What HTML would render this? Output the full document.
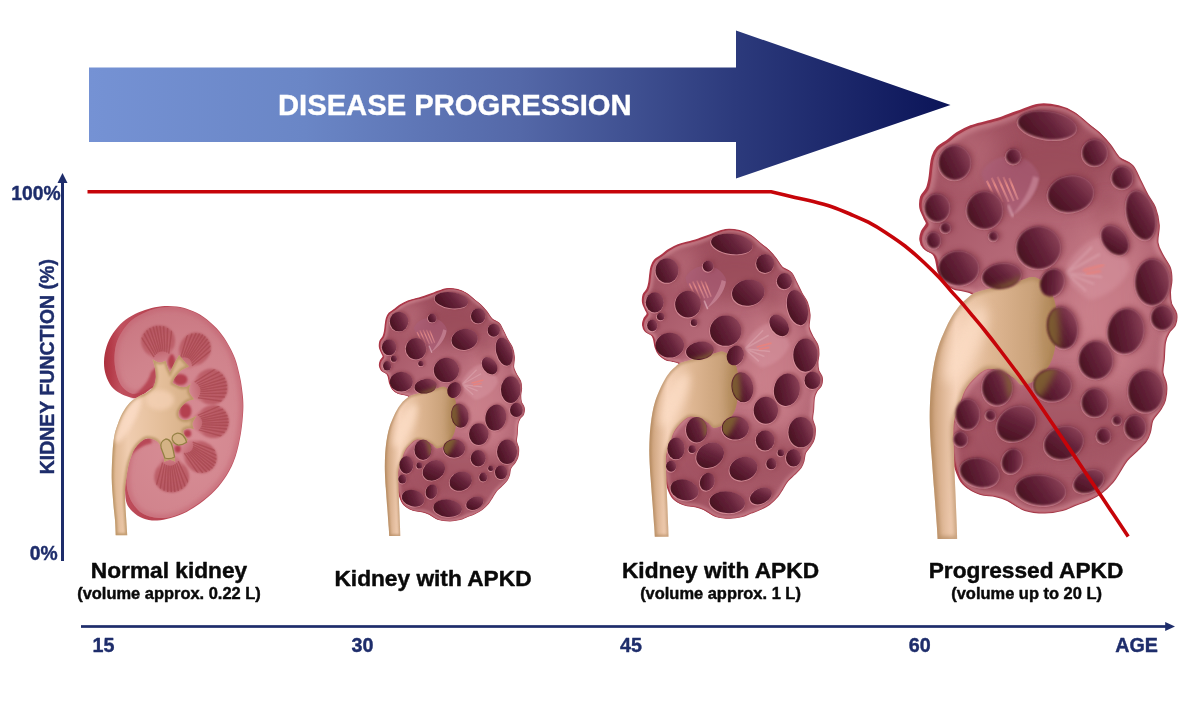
<!DOCTYPE html>
<html>
<head>
<meta charset="utf-8">
<title>Disease progression</title>
<style>
html,body{margin:0;padding:0;background:#fff;}
body{width:1200px;height:720px;overflow:hidden;font-family:"Liberation Sans",sans-serif;}
svg{display:block;}
text{font-family:"Liberation Sans",sans-serif;font-weight:bold;}
.nv{fill:#1e2d6b;stroke:#1e2d6b;stroke-width:0.4;stroke-linejoin:round;}
.bk{fill:#0a0a0a;stroke:#0a0a0a;stroke-width:0.45;stroke-linejoin:round;}
</style>
</head>
<body>
<svg width="1200" height="720" viewBox="0 0 1200 720">
<defs>
<linearGradient id="gArrow" x1="89" y1="0" x2="950" y2="0" gradientUnits="userSpaceOnUse">
<stop offset="0" stop-color="#7592d4"/>
<stop offset="0.25" stop-color="#6a86c6"/>
<stop offset="0.5" stop-color="#5468a8"/>
<stop offset="0.75" stop-color="#2c3a7c"/>
<stop offset="1" stop-color="#0b1458"/>
</linearGradient>
<filter id="soft" x="0" y="0" width="1200" height="720" filterUnits="userSpaceOnUse" color-interpolation-filters="sRGB"><feGaussianBlur stdDeviation="0.5"/></filter>

<filter id="b05" x="-10%" y="-10%" width="120%" height="120%"><feGaussianBlur stdDeviation="0.6"/></filter>
<filter id="b09" x="-10%" y="-10%" width="120%" height="120%"><feGaussianBlur stdDeviation="0.9"/></filter>
<linearGradient id="gStr1" x1="0" y1="176" x2="0" y2="208" gradientUnits="userSpaceOnUse"><stop offset="0" stop-color="#e58a86" stop-opacity="0.25"/><stop offset="0.3" stop-color="#e58a86" stop-opacity="0.95"/><stop offset="1" stop-color="#e9a0a4" stop-opacity="0.2"/></linearGradient>
<filter id="b1" x="-20%" y="-20%" width="140%" height="140%"><feGaussianBlur stdDeviation="1"/></filter>
<filter id="b2" x="-20%" y="-20%" width="140%" height="140%"><feGaussianBlur stdDeviation="2"/></filter>
<filter id="b3" x="-30%" y="-30%" width="160%" height="160%"><feGaussianBlur stdDeviation="3.5"/></filter>
<filter id="b6" x="-50%" y="-50%" width="200%" height="200%"><feGaussianBlur stdDeviation="6"/></filter>
<filter id="b12" x="-50%" y="-50%" width="200%" height="200%"><feGaussianBlur stdDeviation="12"/></filter>
<radialGradient id="gBody" cx="1080" cy="320" r="230" gradientUnits="userSpaceOnUse">
<stop offset="0" stop-color="#c47a86"/><stop offset="0.5" stop-color="#b26574"/><stop offset="1" stop-color="#9c4c5c"/>
</radialGradient>
<linearGradient id="gCyst" x1="0.95" y1="0.25" x2="0.08" y2="0.7">
<stop offset="0" stop-color="#8c4258"/><stop offset="0.45" stop-color="#65233a"/><stop offset="1" stop-color="#4a1222"/>
</linearGradient>
<linearGradient id="gPelvis" x1="930" y1="0" x2="1060" y2="0" gradientUnits="userSpaceOnUse">
<stop offset="0" stop-color="#c89c74"/><stop offset="0.2" stop-color="#f6d3ba"/><stop offset="0.48" stop-color="#deb692"/><stop offset="0.78" stop-color="#caa27a"/><stop offset="1" stop-color="#b48c60"/>
</linearGradient>
<clipPath id="cpBody"><path d="M1040.0 106.0 C1046.8 105.1 1054.2 106.2 1060.0 107.5 C1065.8 108.8 1070.0 110.7 1075.0 113.8 C1080.0 116.8 1085.8 122.6 1090.0 126.0 C1094.2 129.4 1096.7 130.8 1100.0 134.0 C1103.3 137.2 1106.7 140.9 1110.0 145.0 C1113.3 149.1 1116.2 155.2 1120.0 158.8 C1123.8 162.2 1129.2 162.5 1132.5 166.0 C1135.8 169.5 1137.5 175.2 1140.0 180.0 C1142.5 184.8 1145.0 190.4 1147.5 195.0 C1150.0 199.6 1153.1 202.5 1155.0 207.5 C1156.9 212.5 1158.3 219.2 1158.8 225.0 C1159.2 230.8 1156.9 237.5 1157.5 242.5 C1158.1 247.5 1160.4 250.8 1162.5 255.0 C1164.6 259.2 1168.5 263.8 1170.0 268.0 C1171.5 272.2 1171.5 275.9 1171.5 280.0 C1171.5 284.1 1170.0 288.5 1170.0 292.5 C1170.0 296.5 1170.2 300.2 1171.2 303.8 C1172.3 307.3 1175.6 310.2 1176.2 313.8 C1176.9 317.3 1176.2 321.9 1175.0 325.0 C1173.8 328.1 1170.4 329.6 1168.8 332.5 C1167.1 335.4 1165.8 337.9 1165.0 342.5 C1164.2 347.1 1164.2 355.0 1163.8 360.0 C1163.3 365.0 1162.1 368.3 1162.5 372.5 C1162.9 376.7 1165.8 380.4 1166.2 385.0 C1166.7 389.6 1166.0 395.8 1165.0 400.0 C1164.0 404.2 1162.1 406.7 1160.0 410.0 C1157.9 413.3 1154.2 416.3 1152.5 420.0 C1150.8 423.7 1151.1 428.5 1150.0 432.0 C1148.9 435.5 1148.2 437.9 1146.0 441.0 C1143.8 444.1 1140.2 447.3 1137.0 450.5 C1133.8 453.7 1129.8 456.6 1127.0 460.0 C1124.2 463.4 1122.3 467.4 1120.0 471.0 C1117.7 474.6 1116.2 477.8 1113.0 481.5 C1109.8 485.2 1105.3 489.8 1101.0 493.0 C1096.7 496.2 1091.3 498.5 1087.0 500.5 C1082.7 502.5 1079.1 503.4 1075.0 505.0 C1070.9 506.6 1067.5 508.8 1062.5 510.0 C1057.5 511.2 1051.2 512.5 1045.0 512.5 C1038.8 512.5 1031.2 512.1 1025.0 510.0 C1018.8 507.9 1012.5 502.3 1007.5 500.0 C1002.5 497.7 999.6 497.0 995.0 496.0 C990.4 495.0 985.0 495.6 980.0 493.8 C975.0 491.9 968.8 489.0 965.0 485.0 C961.2 481.0 959.4 475.8 957.5 470.0 C955.6 464.2 954.4 457.5 953.8 450.0 C953.1 442.5 952.9 432.1 953.8 425.0 C954.6 417.9 956.9 413.3 958.8 407.5 C960.6 401.7 962.3 395.0 965.0 390.0 C967.7 385.0 971.2 381.0 975.0 377.5 C978.8 374.0 982.5 369.7 987.5 368.8 C992.5 367.8 999.6 370.1 1005.0 372.0 C1010.4 373.9 1015.0 380.0 1020.0 380.0 C1025.0 380.0 1031.7 375.3 1035.0 372.0 C1038.3 368.7 1038.8 364.5 1040.0 360.0 C1041.2 355.5 1042.0 350.8 1042.0 345.0 C1042.0 339.2 1040.7 331.7 1040.0 325.0 C1039.3 318.3 1039.7 310.0 1038.0 305.0 C1036.3 300.0 1033.4 297.5 1030.0 295.0 C1026.6 292.5 1022.5 290.7 1017.5 290.0 C1012.5 289.3 1005.4 290.7 1000.0 291.0 C994.6 291.3 989.1 291.3 985.0 292.0 C980.9 292.7 977.8 294.9 975.5 295.0 C973.2 295.1 973.2 293.3 971.0 292.5 C968.8 291.7 965.2 291.0 962.2 290.3 C959.2 289.6 956.2 289.7 953.3 288.3 C950.4 286.9 947.2 284.7 945.0 282.0 C942.8 279.3 941.2 275.7 940.0 272.0 C938.8 268.3 938.5 263.0 937.5 260.0 C936.5 257.0 936.0 255.8 934.0 254.0 C932.0 252.2 927.5 251.2 925.5 249.0 C923.5 246.8 922.3 243.8 922.0 241.0 C921.7 238.2 922.5 235.2 923.6 232.5 C924.7 229.8 928.1 227.2 928.5 225.0 C928.9 222.8 927.1 221.7 926.0 219.0 C924.9 216.3 922.5 212.5 922.0 209.0 C921.5 205.5 921.8 201.2 922.8 198.0 C923.8 194.8 926.9 193.0 928.3 190.0 C929.7 187.0 930.3 183.7 931.0 180.0 C931.7 176.3 931.9 171.8 932.4 168.1 C932.9 164.3 933.2 160.7 934.3 157.5 C935.4 154.3 936.6 151.6 939.0 149.0 C941.4 146.4 945.6 144.4 948.9 142.0 C952.2 139.6 954.7 136.9 958.6 134.5 C962.5 132.1 967.4 129.4 972.3 127.5 C977.2 125.6 982.9 124.6 987.8 123.3 C992.6 122.0 996.2 121.2 1001.4 119.5 C1006.6 117.8 1012.6 115.2 1019.0 113.0 C1025.4 110.8 1033.2 106.9 1040.0 106.0 Z"/></clipPath>
<clipPath id="cpPelvis"><path d="M974.5 293.0 C971.2 294.6 969.4 296.5 967.0 298.5 C964.6 300.5 962.5 302.0 960.0 305.0 C957.5 308.0 954.2 312.5 951.7 316.7 C949.2 320.9 947.2 325.0 945.0 330.0 C942.8 335.0 940.1 341.1 938.3 346.7 C936.5 352.2 935.3 357.8 934.2 363.3 C933.1 368.9 932.4 374.4 931.7 380.0 C931.1 385.6 930.6 390.6 930.3 396.7 C930.0 402.8 929.7 409.5 929.7 416.7 C929.7 423.9 930.2 433.7 930.5 440.0 C930.8 446.3 930.9 446.5 931.5 454.7 C932.1 462.9 933.2 477.8 934.1 489.4 C935.0 501.0 936.1 516.0 936.7 524.2 C937.3 532.5 937.6 538.9 937.6 538.9 C937.6 538.9 957.2 538.9 957.2 538.9 C957.2 538.9 957.0 532.5 956.7 524.2 C956.4 516.0 955.8 501.0 955.3 489.4 C954.8 477.8 954.3 465.4 954.0 454.7 C953.7 444.0 952.8 432.9 953.6 425.0 C954.4 417.1 956.9 413.3 958.8 407.5 C960.6 401.7 962.3 395.0 965.0 390.0 C967.7 385.0 971.2 381.0 975.0 377.5 C978.8 374.0 982.8 369.9 987.5 369.0 C992.2 368.1 998.6 370.5 1003.0 372.0 C1007.4 373.5 1011.2 376.0 1014.0 378.0 C1016.8 380.0 1018.2 382.9 1020.0 384.0 C1021.8 385.1 1022.3 385.2 1025.0 384.5 C1027.7 383.8 1032.5 382.4 1036.0 380.0 C1039.5 377.6 1043.2 373.9 1046.0 370.0 C1048.8 366.1 1051.1 361.9 1052.8 356.7 C1054.5 351.5 1055.4 345.6 1056.0 338.9 C1056.6 332.2 1056.9 323.4 1056.6 316.7 C1056.2 310.0 1055.8 304.5 1053.9 298.9 C1052.0 293.3 1047.7 286.7 1045.0 283.3 C1042.3 279.9 1040.2 279.6 1038.0 278.5 C1035.8 277.4 1035.0 276.6 1031.7 277.0 C1028.4 277.4 1023.1 279.7 1018.3 281.0 C1013.5 282.3 1008.2 283.6 1003.0 285.0 C997.8 286.4 991.8 287.9 987.0 289.2 C982.2 290.5 977.8 291.4 974.5 293.0 Z"/></clipPath>
<mask id="mPelvisX" maskUnits="userSpaceOnUse" x="900" y="250" width="200" height="180"><path d="M968.0 300.0 C973.0 294.3 979.2 293.6 985.0 291.0 C990.8 288.4 995.5 287.2 1003.0 284.5 C1010.5 281.8 1022.8 275.6 1030.0 275.0 C1037.2 274.4 1041.7 276.8 1046.0 281.0 C1050.3 285.2 1053.7 291.8 1056.0 300.0 C1058.3 308.2 1059.5 320.8 1060.0 330.0 C1060.5 339.2 1059.8 348.0 1059.0 355.0 C1058.2 362.0 1057.0 366.5 1055.0 372.0 C1053.0 377.5 1049.8 383.7 1047.0 388.0 C1044.2 392.3 1043.8 396.0 1038.0 398.0 C1032.2 400.0 1017.2 402.2 1012.0 400.0 C1006.8 397.8 1008.5 389.7 1007.0 385.0 C1005.5 380.3 1006.7 375.2 1003.0 372.0 C999.3 368.8 989.7 365.5 985.0 366.0 C980.3 366.5 979.2 371.0 975.0 375.0 C970.8 379.0 964.2 392.5 960.0 390.0 C955.8 387.5 950.8 370.8 950.0 360.0 C949.2 349.2 952.0 335.0 955.0 325.0 C958.0 315.0 963.0 305.7 968.0 300.0 Z" fill="#fff" filter="url(#b3)"/></mask>

<linearGradient id="gNRim" x1="103" y1="0" x2="250" y2="0" gradientUnits="userSpaceOnUse">
<stop offset="0" stop-color="#aa2f3c"/><stop offset="0.05" stop-color="#b43a48"/><stop offset="0.12" stop-color="#c0505e"/><stop offset="0.3" stop-color="#b84452"/><stop offset="1" stop-color="#c25866"/>
</linearGradient>
<radialGradient id="gNFace" cx="190" cy="440" r="150" gradientUnits="userSpaceOnUse">
<stop offset="0" stop-color="#d88e96"/><stop offset="0.6" stop-color="#d0838c"/><stop offset="1" stop-color="#c7737e"/>
</radialGradient>
<linearGradient id="gNPel" x1="110" y1="0" x2="200" y2="0" gradientUnits="userSpaceOnUse">
<stop offset="0" stop-color="#d9b08a"/><stop offset="0.2" stop-color="#f0cdb0"/><stop offset="0.6" stop-color="#e3bd98"/><stop offset="1" stop-color="#d2ab82"/>
</linearGradient>
<clipPath id="cpNFace"><path d="M165.0 307.3 C168.8 307.1 173.8 306.9 178.0 307.5 C182.2 308.1 185.8 309.1 190.0 310.8 C194.2 312.5 198.7 314.5 203.0 317.5 C207.3 320.5 212.2 324.9 216.0 329.0 C219.8 333.1 223.0 337.1 226.0 342.0 C229.0 346.9 232.0 352.7 234.2 358.5 C236.4 364.3 237.9 371.2 239.2 377.0 C240.4 382.8 241.2 388.0 241.7 393.5 C242.2 399.0 242.7 403.4 242.4 410.0 C242.2 416.6 241.5 425.2 240.2 433.0 C238.9 440.8 237.0 449.6 234.7 456.5 C232.4 463.4 229.6 468.9 226.2 474.5 C222.8 480.1 218.8 485.1 214.3 489.8 C209.9 494.5 204.7 498.8 199.5 502.6 C194.3 506.4 188.5 510.1 183.0 512.6 C177.5 515.1 171.9 517.1 166.7 517.8 C161.5 518.5 156.3 517.9 152.0 517.0 C147.7 516.1 144.2 514.8 141.0 512.5 C137.8 510.2 134.7 506.5 132.5 503.0 C130.3 499.5 128.8 495.8 127.8 491.7 C126.8 487.6 126.5 482.8 126.5 478.3 C126.5 473.9 127.0 469.1 127.7 465.0 C128.4 460.9 129.2 456.8 130.5 453.5 C131.8 450.2 133.6 447.6 135.5 445.3 C137.4 443.0 139.6 440.8 142.0 439.6 C144.4 438.4 146.2 439.6 150.0 438.3 C153.8 437.0 162.0 438.4 165.0 432.0 C168.0 425.6 169.5 407.7 168.0 400.0 C166.5 392.3 159.3 387.9 156.0 386.0 C152.7 384.1 150.8 387.3 148.0 388.5 C145.2 389.7 141.8 392.2 139.0 393.0 C136.2 393.8 133.8 394.3 131.0 393.3 C128.2 392.3 124.8 389.9 122.5 387.0 C120.2 384.1 118.3 380.3 117.0 376.0 C115.7 371.7 114.7 366.2 114.5 361.0 C114.3 355.8 114.8 349.9 116.0 345.0 C117.2 340.1 119.3 335.9 122.0 331.7 C124.7 327.5 128.2 323.2 132.0 320.0 C135.8 316.8 141.2 314.4 145.0 312.5 C148.8 310.6 151.7 309.7 155.0 308.8 C158.3 307.9 161.2 307.5 165.0 307.3 Z"/></clipPath>
<clipPath id="cpNPel"><path d="M152.5 359.2 C152.5 359.2 157.0 362.2 159.2 362.5 C161.4 362.8 165.8 360.8 165.8 360.8 C165.8 360.8 166.8 364.8 167.5 366.7 C168.2 368.6 170.0 372.5 170.0 372.5 C170.0 372.5 172.5 366.9 174.0 364.0 C175.5 361.1 179.2 355.0 179.2 355.0 C179.2 355.0 182.3 359.1 184.0 361.0 C185.7 362.9 189.2 366.7 189.2 366.7 C189.2 366.7 184.1 368.2 181.7 370.0 C179.3 371.8 176.5 375.3 175.0 377.5 C173.5 379.7 172.5 383.0 172.5 383.0 C172.5 383.0 177.6 386.1 180.0 386.7 C182.4 387.3 184.9 387.3 186.7 386.7 C188.5 386.1 190.8 383.3 190.8 383.3 C190.8 383.3 188.6 389.1 189.2 391.7 C189.8 394.3 194.2 399.2 194.2 399.2 C194.2 399.2 188.9 400.3 186.7 401.7 C184.5 403.1 182.2 405.6 180.8 407.5 C179.4 409.4 178.4 411.5 178.3 413.3 C178.2 415.1 178.6 417.2 180.0 418.3 C181.4 419.4 183.9 420.4 186.7 420.0 C189.5 419.6 196.7 415.8 196.7 415.8 C196.7 415.8 192.9 421.1 192.5 423.3 C192.1 425.5 194.2 429.2 194.2 429.2 C194.2 429.2 190.1 428.0 188.3 428.3 C186.5 428.6 183.9 429.6 183.3 430.8 C182.8 432.1 184.2 434.3 185.0 435.8 C185.8 437.3 188.3 440.0 188.3 440.0 C188.3 440.0 183.6 442.5 181.7 443.3 C179.8 444.1 178.0 445.0 176.7 445.0 C175.4 445.0 174.4 443.3 173.7 443.3 C173.0 443.3 172.5 445.0 172.5 445.0 C172.5 445.0 173.2 450.5 173.7 453.3 C174.2 456.1 175.3 461.7 175.3 461.7 C175.3 461.7 171.8 460.0 170.0 460.0 C168.2 460.0 164.2 461.7 164.2 461.7 C164.2 461.7 163.9 455.8 163.3 453.3 C162.7 450.8 161.6 448.5 160.8 446.7 C160.0 444.9 159.6 443.8 158.3 442.5 C157.1 441.2 155.2 439.9 153.3 439.2 C151.4 438.5 148.9 437.8 146.7 438.3 C144.5 438.9 141.9 440.8 140.0 442.5 C138.1 444.2 136.4 446.2 135.0 448.3 C133.6 450.4 132.8 452.2 131.7 455.0 C130.6 457.8 129.4 461.1 128.5 465.0 C127.6 468.9 126.9 474.1 126.3 478.3 C125.7 482.5 125.2 485.8 125.0 490.0 C124.8 494.2 125.1 498.3 125.3 503.3 C125.5 508.3 126.0 514.7 126.3 520.0 C126.6 525.3 127.3 535.2 127.3 535.2 C127.3 535.2 115.7 535.2 115.7 535.2 C115.7 535.2 115.4 525.3 115.0 520.0 C114.6 514.7 113.8 510.2 113.3 503.3 C112.8 496.4 111.8 486.6 111.7 478.3 C111.6 470.0 112.1 460.2 112.5 453.3 C112.9 446.4 113.4 441.4 114.2 436.7 C115.0 432.0 116.1 428.9 117.5 425.0 C118.9 421.1 120.4 416.8 122.5 413.0 C124.6 409.2 127.4 405.2 130.0 402.5 C132.6 399.8 135.5 398.4 138.3 396.7 C141.1 395.0 144.2 394.2 146.7 392.5 C149.2 390.8 151.8 389.1 153.3 386.7 C154.8 384.3 155.5 381.4 155.8 378.3 C156.1 375.2 155.6 371.5 155.0 368.3 C154.4 365.1 152.5 359.2 152.5 359.2 Z"/></clipPath>
<linearGradient id="gPy0" gradientUnits="userSpaceOnUse" x1="162.5" y1="360.0" x2="154.6" y2="325.9"><stop offset="0" stop-color="#cc7882" stop-opacity="0.55"/><stop offset="0.3" stop-color="#bd5f69" stop-opacity="0.95"/><stop offset="1" stop-color="#b65761" stop-opacity="1"/></linearGradient>
<clipPath id="cpPy0"><path d="M157.2 361.2 C154.5 361.0 153.8 359.0 151.8 357.4 C149.8 355.9 147.0 354.2 145.3 352.1 C143.6 350.0 142.2 347.5 141.6 345.1 C141.0 342.6 140.9 340.0 141.6 337.5 C142.3 335.1 143.7 332.4 145.9 330.4 C148.1 328.5 151.5 326.6 154.6 325.9 C157.7 325.2 161.7 325.4 164.5 326.1 C167.3 326.9 169.7 328.8 171.4 330.6 C173.1 332.5 174.2 335.0 174.7 337.4 C175.2 339.9 175.1 342.8 174.5 345.4 C173.9 348.0 172.1 350.8 171.0 353.0 C169.9 355.2 170.1 357.4 167.8 358.8 C165.5 360.1 159.9 361.4 157.2 361.2 Z"/></clipPath>
<linearGradient id="gPy1" gradientUnits="userSpaceOnUse" x1="183.5" y1="366.0" x2="204.2" y2="335.3"><stop offset="0" stop-color="#cc7882" stop-opacity="0.55"/><stop offset="0.3" stop-color="#bd5f69" stop-opacity="0.95"/><stop offset="1" stop-color="#b65761" stop-opacity="1"/></linearGradient>
<clipPath id="cpPy1"><path d="M179.4 363.2 C177.9 361.2 179.0 359.2 178.9 356.7 C178.9 354.2 178.5 351.0 179.0 348.3 C179.5 345.5 180.6 342.7 182.0 340.5 C183.5 338.2 185.4 336.2 187.7 334.9 C189.9 333.6 192.8 332.5 195.5 332.6 C198.3 332.7 201.8 333.7 204.2 335.3 C206.6 336.9 208.8 339.8 209.9 342.3 C211.0 344.9 211.2 347.9 210.8 350.5 C210.4 353.1 209.3 355.6 207.7 357.8 C206.2 360.0 203.9 362.0 201.6 363.5 C199.3 365.0 196.2 365.9 193.8 366.7 C191.5 367.6 190.0 369.4 187.6 368.8 C185.2 368.2 180.8 365.2 179.4 363.2 Z"/></clipPath>
<linearGradient id="gPy2" gradientUnits="userSpaceOnUse" x1="191.5" y1="391.0" x2="227.2" y2="383.4"><stop offset="0" stop-color="#cc7882" stop-opacity="0.55"/><stop offset="0.3" stop-color="#bd5f69" stop-opacity="0.95"/><stop offset="1" stop-color="#b65761" stop-opacity="1"/></linearGradient>
<clipPath id="cpPy2"><path d="M190.3 385.4 C190.6 382.5 192.7 381.8 194.3 379.7 C195.9 377.7 197.8 374.8 200.0 373.0 C202.2 371.3 204.8 369.8 207.4 369.2 C209.9 368.6 212.7 368.6 215.3 369.4 C217.8 370.2 220.6 371.7 222.6 374.1 C224.6 376.4 226.5 380.1 227.2 383.4 C227.9 386.7 227.7 390.9 226.8 393.8 C225.9 396.7 224.0 399.3 222.0 401.1 C220.0 402.9 217.4 403.9 214.9 404.4 C212.3 404.9 209.3 404.7 206.6 404.0 C203.9 403.3 201.0 401.4 198.7 400.1 C196.4 398.9 194.1 399.1 192.7 396.6 C191.3 394.2 190.0 388.2 190.3 385.4 Z"/></clipPath>
<linearGradient id="gPy3" gradientUnits="userSpaceOnUse" x1="193.5" y1="423.0" x2="228.9" y2="420.5"><stop offset="0" stop-color="#cc7882" stop-opacity="0.55"/><stop offset="0.3" stop-color="#bd5f69" stop-opacity="0.95"/><stop offset="1" stop-color="#b65761" stop-opacity="1"/></linearGradient>
<clipPath id="cpPy3"><path d="M193.1 417.7 C193.8 415.2 196.0 414.8 197.8 413.1 C199.6 411.4 201.8 409.0 204.2 407.7 C206.5 406.4 209.3 405.4 211.8 405.2 C214.4 404.9 217.1 405.3 219.4 406.3 C221.7 407.4 224.2 409.1 225.8 411.5 C227.4 413.8 228.7 417.5 228.9 420.5 C229.1 423.6 228.3 427.3 227.1 429.9 C225.8 432.5 223.6 434.6 221.5 435.9 C219.3 437.3 216.7 438.0 214.1 438.1 C211.6 438.2 208.7 437.7 206.2 436.7 C203.7 435.7 201.2 433.6 199.1 432.2 C197.1 430.8 194.9 430.7 193.9 428.3 C192.9 425.9 192.5 420.3 193.1 417.7 Z"/></clipPath>
<linearGradient id="gPy4" gradientUnits="userSpaceOnUse" x1="184.5" y1="444.5" x2="213.7" y2="467.3"><stop offset="0" stop-color="#cc7882" stop-opacity="0.55"/><stop offset="0.3" stop-color="#bd5f69" stop-opacity="0.95"/><stop offset="1" stop-color="#b65761" stop-opacity="1"/></linearGradient>
<clipPath id="cpPy4"><path d="M187.6 440.6 C189.7 439.3 191.6 440.5 194.1 440.6 C196.6 440.7 199.9 440.6 202.5 441.3 C205.2 442.0 208.0 443.2 210.1 444.8 C212.2 446.4 214.1 448.5 215.2 450.8 C216.4 453.2 217.2 456.1 217.0 458.8 C216.7 461.6 215.4 465.0 213.7 467.3 C211.9 469.6 208.9 471.6 206.3 472.5 C203.7 473.4 200.6 473.4 198.1 472.8 C195.5 472.3 193.1 470.9 191.0 469.2 C188.9 467.6 187.0 465.2 185.7 462.8 C184.4 460.4 183.8 457.2 183.0 454.8 C182.3 452.4 180.7 450.8 181.4 448.4 C182.2 446.0 185.4 441.9 187.6 440.6 Z"/></clipPath>
<linearGradient id="gPy5" gradientUnits="userSpaceOnUse" x1="170.0" y1="457.0" x2="173.1" y2="492.4"><stop offset="0" stop-color="#cc7882" stop-opacity="0.55"/><stop offset="0.3" stop-color="#bd5f69" stop-opacity="0.95"/><stop offset="1" stop-color="#b65761" stop-opacity="1"/></linearGradient>
<clipPath id="cpPy5"><path d="M175.6 456.5 C178.3 457.1 178.7 459.3 180.5 461.1 C182.3 462.9 184.9 465.0 186.4 467.3 C187.8 469.6 188.9 472.4 189.1 474.9 C189.4 477.5 189.1 480.2 188.0 482.5 C187.0 484.9 185.1 487.4 182.6 489.0 C180.1 490.7 176.3 492.1 173.1 492.4 C169.8 492.6 165.9 491.9 163.1 490.7 C160.4 489.6 158.1 487.4 156.7 485.3 C155.2 483.1 154.4 480.5 154.3 478.0 C154.1 475.4 154.7 472.5 155.7 470.0 C156.7 467.5 158.9 464.9 160.3 462.8 C161.8 460.7 161.9 458.5 164.4 457.5 C167.0 456.4 172.9 455.9 175.6 456.5 Z"/></clipPath>

</defs>
<rect x="0" y="0" width="1200" height="720" fill="#ffffff"/>
<g filter="url(#soft)">

<!-- big arrow -->
<path d="M89 67.5 H736 V30.5 L950.5 105 L736 178.5 V142 H89 Z" fill="url(#gArrow)"/>
<text x="278" y="115" font-size="29.2" fill="#ffffff" stroke="#ffffff" stroke-width="0.35">DISEASE PROGRESSION</text>

<!-- axes -->
<rect x="61" y="180" width="3" height="381" fill="#1e2d6b"/>
<path d="M62.5 173 L67.5 183 H57.5 Z" fill="#1e2d6b"/>
<rect x="81" y="625.15" width="1085" height="2.7" fill="#1e2d6b"/>
<path d="M1175 626.5 L1165.2 621.9 V631.1 Z" fill="#1e2d6b"/>

<text class="nv" x="60.6" y="199.9" font-size="19.3" text-anchor="end">100%</text>
<text class="nv" x="57.6" y="559.9" font-size="19.3" text-anchor="end">0%</text>
<text class="nv" transform="translate(54 474.3) rotate(-90)" font-size="19.5">KIDNEY FUNCTION (%)</text>

<text class="nv" x="92.6" y="651.5" font-size="19.7">15</text>
<text class="nv" x="351.6" y="651.5" font-size="19.7">30</text>
<text class="nv" x="620" y="651.5" font-size="19.7">45</text>
<text class="nv" x="908.7" y="651.5" font-size="19.7">60</text>
<text class="nv" x="1115.3" y="651.5" font-size="19.7">AGE</text>

<g id="nk">
<path d="M161.7 306.2 C166.4 305.8 172.0 305.9 176.7 306.5 C181.4 307.1 185.6 308.3 190.0 310.0 C194.4 311.7 198.9 313.6 203.3 316.7 C207.8 319.8 212.8 324.1 216.7 328.3 C220.6 332.5 223.6 336.7 226.7 341.7 C229.8 346.7 232.8 352.5 235.0 358.3 C237.2 364.1 238.7 370.9 240.0 376.7 C241.3 382.5 242.0 387.8 242.6 393.3 C243.2 398.9 243.6 403.4 243.3 410.0 C243.0 416.6 242.3 425.2 241.0 433.0 C239.7 440.8 237.8 449.7 235.5 456.7 C233.2 463.7 230.4 469.4 227.0 475.0 C223.6 480.6 219.5 485.8 215.0 490.5 C210.5 495.2 205.3 499.7 200.0 503.5 C194.7 507.3 188.9 510.9 183.3 513.5 C177.8 516.1 171.9 517.8 166.7 519.0 C161.5 520.2 156.4 520.8 152.0 520.5 C147.6 520.2 143.6 518.8 140.0 517.0 C136.4 515.2 132.8 512.2 130.5 509.5 C128.2 506.8 126.9 504.9 126.0 501.0 C125.1 497.1 125.1 491.2 125.0 486.0 C124.9 480.8 124.8 474.8 125.5 470.0 C126.2 465.2 127.2 460.8 129.0 457.0 C130.8 453.2 133.3 449.8 136.0 447.0 C138.7 444.2 142.2 441.9 145.0 440.5 C147.8 439.1 149.7 440.2 153.0 438.5 C156.3 436.8 163.0 436.4 165.0 430.0 C167.0 423.6 166.9 406.9 165.0 400.0 C163.1 393.1 156.8 389.6 153.5 388.5 C150.2 387.4 147.9 391.7 145.0 393.3 C142.1 394.9 138.7 397.4 136.0 398.0 C133.3 398.6 131.7 397.8 129.0 397.0 C126.3 396.2 122.9 395.0 120.0 393.3 C117.1 391.6 114.1 389.8 111.7 386.7 C109.3 383.6 107.1 379.2 105.8 375.0 C104.5 370.8 103.9 366.4 104.0 361.7 C104.1 357.0 105.0 351.4 106.5 346.7 C108.0 342.0 110.2 337.5 113.0 333.3 C115.8 329.1 119.3 324.9 123.0 321.7 C126.7 318.5 130.8 316.1 135.0 314.0 C139.2 311.9 143.9 310.3 148.3 309.0 C152.8 307.7 157.0 306.6 161.7 306.2 Z" fill="url(#gNRim)"/>
<path d="M165.0 307.3 C168.8 307.1 173.8 306.9 178.0 307.5 C182.2 308.1 185.8 309.1 190.0 310.8 C194.2 312.5 198.7 314.5 203.0 317.5 C207.3 320.5 212.2 324.9 216.0 329.0 C219.8 333.1 223.0 337.1 226.0 342.0 C229.0 346.9 232.0 352.7 234.2 358.5 C236.4 364.3 237.9 371.2 239.2 377.0 C240.4 382.8 241.2 388.0 241.7 393.5 C242.2 399.0 242.7 403.4 242.4 410.0 C242.2 416.6 241.5 425.2 240.2 433.0 C238.9 440.8 237.0 449.6 234.7 456.5 C232.4 463.4 229.6 468.9 226.2 474.5 C222.8 480.1 218.8 485.1 214.3 489.8 C209.9 494.5 204.7 498.8 199.5 502.6 C194.3 506.4 188.5 510.1 183.0 512.6 C177.5 515.1 171.9 517.1 166.7 517.8 C161.5 518.5 156.3 517.9 152.0 517.0 C147.7 516.1 144.2 514.8 141.0 512.5 C137.8 510.2 134.7 506.5 132.5 503.0 C130.3 499.5 128.8 495.8 127.8 491.7 C126.8 487.6 126.5 482.8 126.5 478.3 C126.5 473.9 127.0 469.1 127.7 465.0 C128.4 460.9 129.2 456.8 130.5 453.5 C131.8 450.2 133.6 447.6 135.5 445.3 C137.4 443.0 139.6 440.8 142.0 439.6 C144.4 438.4 146.2 439.6 150.0 438.3 C153.8 437.0 162.0 438.4 165.0 432.0 C168.0 425.6 169.5 407.7 168.0 400.0 C166.5 392.3 159.3 387.9 156.0 386.0 C152.7 384.1 150.8 387.3 148.0 388.5 C145.2 389.7 141.8 392.2 139.0 393.0 C136.2 393.8 133.8 394.3 131.0 393.3 C128.2 392.3 124.8 389.9 122.5 387.0 C120.2 384.1 118.3 380.3 117.0 376.0 C115.7 371.7 114.7 366.2 114.5 361.0 C114.3 355.8 114.8 349.9 116.0 345.0 C117.2 340.1 119.3 335.9 122.0 331.7 C124.7 327.5 128.2 323.2 132.0 320.0 C135.8 316.8 141.2 314.4 145.0 312.5 C148.8 310.6 151.7 309.7 155.0 308.8 C158.3 307.9 161.2 307.5 165.0 307.3 Z" fill="url(#gNFace)"/>
<g clip-path="url(#cpNFace)">
<path d="M165.0 307.3 C168.8 307.1 173.8 306.9 178.0 307.5 C182.2 308.1 185.8 309.1 190.0 310.8 C194.2 312.5 198.7 314.5 203.0 317.5 C207.3 320.5 212.2 324.9 216.0 329.0 C219.8 333.1 223.0 337.1 226.0 342.0 C229.0 346.9 232.0 352.7 234.2 358.5 C236.4 364.3 237.9 371.2 239.2 377.0 C240.4 382.8 241.2 388.0 241.7 393.5 C242.2 399.0 242.7 403.4 242.4 410.0 C242.2 416.6 241.5 425.2 240.2 433.0 C238.9 440.8 237.0 449.6 234.7 456.5 C232.4 463.4 229.6 468.9 226.2 474.5 C222.8 480.1 218.8 485.1 214.3 489.8 C209.9 494.5 204.7 498.8 199.5 502.6 C194.3 506.4 188.5 510.1 183.0 512.6 C177.5 515.1 171.9 517.1 166.7 517.8 C161.5 518.5 156.3 517.9 152.0 517.0 C147.7 516.1 144.2 514.8 141.0 512.5 C137.8 510.2 134.7 506.5 132.5 503.0 C130.3 499.5 128.8 495.8 127.8 491.7 C126.8 487.6 126.5 482.8 126.5 478.3 C126.5 473.9 127.0 469.1 127.7 465.0 C128.4 460.9 129.2 456.8 130.5 453.5 C131.8 450.2 133.6 447.6 135.5 445.3 C137.4 443.0 139.6 440.8 142.0 439.6 C144.4 438.4 146.2 439.6 150.0 438.3 C153.8 437.0 162.0 438.4 165.0 432.0 C168.0 425.6 169.5 407.7 168.0 400.0 C166.5 392.3 159.3 387.9 156.0 386.0 C152.7 384.1 150.8 387.3 148.0 388.5 C145.2 389.7 141.8 392.2 139.0 393.0 C136.2 393.8 133.8 394.3 131.0 393.3 C128.2 392.3 124.8 389.9 122.5 387.0 C120.2 384.1 118.3 380.3 117.0 376.0 C115.7 371.7 114.7 366.2 114.5 361.0 C114.3 355.8 114.8 349.9 116.0 345.0 C117.2 340.1 119.3 335.9 122.0 331.7 C124.7 327.5 128.2 323.2 132.0 320.0 C135.8 316.8 141.2 314.4 145.0 312.5 C148.8 310.6 151.7 309.7 155.0 308.8 C158.3 307.9 161.2 307.5 165.0 307.3 Z" fill="none" stroke="#c4606e" stroke-opacity="0.5" stroke-width="7" filter="url(#b2)"/>
</g>
<g filter="url(#b09)" fill="#b43f4f">
<ellipse cx="171.5" cy="361.5" rx="3.6" ry="7.5"/>
<ellipse cx="180.5" cy="379.5" rx="7" ry="5.5"/>
<ellipse cx="185.5" cy="411" rx="6" ry="7.5"/>
<ellipse cx="187.5" cy="433.5" rx="3.8" ry="3.8"/>
<ellipse cx="177.8" cy="449" rx="3.3" ry="3.8"/>
</g>
<g filter="url(#b1)" fill="#b5404f" opacity="0.85">
<path d="M150 437 C141 438 133 446 130 457 C134 451 141 446 152 443 Z"/>
<path d="M157 366 C158 376 156 384 150 390 C144 394 137 397 131 399 C139 391 148 384 151 372 Z"/>
</g>
<path d="M157.2 361.2 C154.5 361.0 153.8 359.0 151.8 357.4 C149.8 355.9 147.0 354.2 145.3 352.1 C143.6 350.0 142.2 347.5 141.6 345.1 C141.0 342.6 140.9 340.0 141.6 337.5 C142.3 335.1 143.7 332.4 145.9 330.4 C148.1 328.5 151.5 326.6 154.6 325.9 C157.7 325.2 161.7 325.4 164.5 326.1 C167.3 326.9 169.7 328.8 171.4 330.6 C173.1 332.5 174.2 335.0 174.7 337.4 C175.2 339.9 175.1 342.8 174.5 345.4 C173.9 348.0 172.1 350.8 171.0 353.0 C169.9 355.2 170.1 357.4 167.8 358.8 C165.5 360.1 159.9 361.4 157.2 361.2 Z" fill="url(#gPy0)" filter="url(#b1)"/>
<g clip-path="url(#cpPy0)"><path d="M154.1 357.0 L141.2 337.2 M155.4 355.2 L143.9 333.3 M156.8 353.7 L146.7 330.3 M158.2 352.6 L149.7 327.9 M159.8 351.8 L153.0 326.4 M161.4 351.5 L156.3 325.6 M163.1 351.5 L159.9 325.6 M164.9 351.8 L163.6 326.3 M166.8 352.6 L167.6 327.9 M168.7 353.7 L171.7 330.2" stroke="#a5444c" stroke-width="1.5" stroke-opacity="0.62" fill="none" filter="url(#b05)"/></g>
<path d="M179.4 363.2 C177.9 361.2 179.0 359.2 178.9 356.7 C178.9 354.2 178.5 351.0 179.0 348.3 C179.5 345.5 180.6 342.7 182.0 340.5 C183.5 338.2 185.4 336.2 187.7 334.9 C189.9 333.6 192.8 332.5 195.5 332.6 C198.3 332.7 201.8 333.7 204.2 335.3 C206.6 336.9 208.8 339.8 209.9 342.3 C211.0 344.9 211.2 347.9 210.8 350.5 C210.4 353.1 209.3 355.6 207.7 357.8 C206.2 360.0 203.9 362.0 201.6 363.5 C199.3 365.0 196.2 365.9 193.8 366.7 C191.5 367.6 190.0 369.4 187.6 368.8 C185.2 368.2 180.8 365.2 179.4 363.2 Z" fill="url(#gPy1)" filter="url(#b1)"/>
<g clip-path="url(#cpPy1)"><path d="M180.6 358.0 L187.6 334.4 M182.8 357.5 L192.1 333.4 M184.7 357.4 L196.2 333.1 M186.4 357.6 L199.7 333.4 M187.9 358.1 L202.8 334.5 M189.2 358.9 L205.4 336.3 M190.2 360.1 L207.6 338.8 M191.0 361.6 L209.3 341.9 M191.6 363.5 L210.5 345.8 M192.0 365.6 L211.3 350.3" stroke="#a5444c" stroke-width="1.5" stroke-opacity="0.62" fill="none" filter="url(#b05)"/></g>
<path d="M190.3 385.4 C190.6 382.5 192.7 381.8 194.3 379.7 C195.9 377.7 197.8 374.8 200.0 373.0 C202.2 371.3 204.8 369.8 207.4 369.2 C209.9 368.6 212.7 368.6 215.3 369.4 C217.8 370.2 220.6 371.7 222.6 374.1 C224.6 376.4 226.5 380.1 227.2 383.4 C227.9 386.7 227.7 390.9 226.8 393.8 C225.9 396.7 224.0 399.3 222.0 401.1 C220.0 402.9 217.4 403.9 214.9 404.4 C212.3 404.9 209.3 404.7 206.6 404.0 C203.9 403.3 201.0 401.4 198.7 400.1 C196.4 398.9 194.1 399.1 192.7 396.6 C191.3 394.2 190.0 388.2 190.3 385.4 Z" fill="url(#gPy2)" filter="url(#b1)"/>
<g clip-path="url(#cpPy2)"><path d="M194.7 382.2 L215.6 368.9 M196.6 383.6 L219.6 371.9 M198.2 385.1 L222.8 374.9 M199.3 386.6 L225.1 378.2 M200.1 388.3 L226.7 381.6 M200.4 390.0 L227.5 385.2 M200.4 391.8 L227.4 389.0 M200.0 393.7 L226.6 392.9 M199.2 395.7 L224.9 397.1 M198.0 397.7 L222.5 401.3" stroke="#a5444c" stroke-width="1.5" stroke-opacity="0.62" fill="none" filter="url(#b05)"/></g>
<path d="M193.1 417.7 C193.8 415.2 196.0 414.8 197.8 413.1 C199.6 411.4 201.8 409.0 204.2 407.7 C206.5 406.4 209.3 405.4 211.8 405.2 C214.4 404.9 217.1 405.3 219.4 406.3 C221.7 407.4 224.2 409.1 225.8 411.5 C227.4 413.8 228.7 417.5 228.9 420.5 C229.1 423.6 228.3 427.3 227.1 429.9 C225.8 432.5 223.6 434.6 221.5 435.9 C219.3 437.3 216.7 438.0 214.1 438.1 C211.6 438.2 208.7 437.7 206.2 436.7 C203.7 435.7 201.2 433.6 199.1 432.2 C197.1 430.8 194.9 430.7 193.9 428.3 C192.9 425.9 192.5 420.3 193.1 417.7 Z" fill="url(#gPy3)" filter="url(#b1)"/>
<g clip-path="url(#cpPy3)"><path d="M197.8 415.4 L219.8 405.9 M199.5 416.9 L223.2 409.1 M200.7 418.4 L225.8 412.3 M201.6 420.0 L227.7 415.5 M202.1 421.6 L228.7 418.8 M202.2 423.2 L228.9 422.2 M201.9 424.8 L228.4 425.6 M201.3 426.5 L227.0 429.1 M200.3 428.2 L224.8 432.6 M198.8 429.9 L221.9 436.2" stroke="#a5444c" stroke-width="1.5" stroke-opacity="0.62" fill="none" filter="url(#b05)"/></g>
<path d="M187.6 440.6 C189.7 439.3 191.6 440.5 194.1 440.6 C196.6 440.7 199.9 440.6 202.5 441.3 C205.2 442.0 208.0 443.2 210.1 444.8 C212.2 446.4 214.1 448.5 215.2 450.8 C216.4 453.2 217.2 456.1 217.0 458.8 C216.7 461.6 215.4 465.0 213.7 467.3 C211.9 469.6 208.9 471.6 206.3 472.5 C203.7 473.4 200.6 473.4 198.1 472.8 C195.5 472.3 193.1 470.9 191.0 469.2 C188.9 467.6 187.0 465.2 185.7 462.8 C184.4 460.4 183.8 457.2 183.0 454.8 C182.3 452.4 180.7 450.8 181.4 448.4 C182.2 446.0 185.4 441.9 187.6 440.6 Z" fill="url(#gPy4)" filter="url(#b1)"/>
<g clip-path="url(#cpPy4)"><path d="M192.7 442.2 L215.8 450.8 M193.0 444.4 L216.5 455.4 M193.0 446.3 L216.5 459.4 M192.7 448.0 L215.8 463.0 M192.1 449.5 L214.5 466.0 M191.2 450.7 L212.6 468.5 M189.9 451.6 L210.0 470.4 M188.3 452.3 L206.7 471.9 M186.5 452.8 L202.8 472.9 M184.3 453.0 L198.2 473.3" stroke="#a5444c" stroke-width="1.5" stroke-opacity="0.62" fill="none" filter="url(#b05)"/></g>
<path d="M175.6 456.5 C178.3 457.1 178.7 459.3 180.5 461.1 C182.3 462.9 184.9 465.0 186.4 467.3 C187.8 469.6 188.9 472.4 189.1 474.9 C189.4 477.5 189.1 480.2 188.0 482.5 C187.0 484.9 185.1 487.4 182.6 489.0 C180.1 490.7 176.3 492.1 173.1 492.4 C169.8 492.6 165.9 491.9 163.1 490.7 C160.4 489.6 158.1 487.4 156.7 485.3 C155.2 483.1 154.4 480.5 154.3 478.0 C154.1 475.4 154.7 472.5 155.7 470.0 C156.7 467.5 158.9 464.9 160.3 462.8 C161.8 460.7 161.9 458.5 164.4 457.5 C167.0 456.4 172.9 455.9 175.6 456.5 Z" fill="url(#gPy5)" filter="url(#b1)"/>
<g clip-path="url(#cpPy5)"><path d="M178.1 461.1 L188.4 482.9 M176.5 462.8 L185.1 486.4 M174.9 464.1 L181.8 489.1 M173.3 465.0 L178.4 491.0 M171.6 465.6 L174.9 492.1 M169.9 465.7 L171.3 492.4 M168.2 465.5 L167.7 491.9 M166.4 464.9 L164.0 490.7 M164.6 463.9 L160.2 488.6 M162.7 462.5 L156.3 485.7" stroke="#a5444c" stroke-width="1.5" stroke-opacity="0.62" fill="none" filter="url(#b05)"/></g>
<path d="M152.5 359.2 C152.5 359.2 157.0 362.2 159.2 362.5 C161.4 362.8 165.8 360.8 165.8 360.8 C165.8 360.8 166.8 364.8 167.5 366.7 C168.2 368.6 170.0 372.5 170.0 372.5 C170.0 372.5 172.5 366.9 174.0 364.0 C175.5 361.1 179.2 355.0 179.2 355.0 C179.2 355.0 182.3 359.1 184.0 361.0 C185.7 362.9 189.2 366.7 189.2 366.7 C189.2 366.7 184.1 368.2 181.7 370.0 C179.3 371.8 176.5 375.3 175.0 377.5 C173.5 379.7 172.5 383.0 172.5 383.0 C172.5 383.0 177.6 386.1 180.0 386.7 C182.4 387.3 184.9 387.3 186.7 386.7 C188.5 386.1 190.8 383.3 190.8 383.3 C190.8 383.3 188.6 389.1 189.2 391.7 C189.8 394.3 194.2 399.2 194.2 399.2 C194.2 399.2 188.9 400.3 186.7 401.7 C184.5 403.1 182.2 405.6 180.8 407.5 C179.4 409.4 178.4 411.5 178.3 413.3 C178.2 415.1 178.6 417.2 180.0 418.3 C181.4 419.4 183.9 420.4 186.7 420.0 C189.5 419.6 196.7 415.8 196.7 415.8 C196.7 415.8 192.9 421.1 192.5 423.3 C192.1 425.5 194.2 429.2 194.2 429.2 C194.2 429.2 190.1 428.0 188.3 428.3 C186.5 428.6 183.9 429.6 183.3 430.8 C182.8 432.1 184.2 434.3 185.0 435.8 C185.8 437.3 188.3 440.0 188.3 440.0 C188.3 440.0 183.6 442.5 181.7 443.3 C179.8 444.1 178.0 445.0 176.7 445.0 C175.4 445.0 174.4 443.3 173.7 443.3 C173.0 443.3 172.5 445.0 172.5 445.0 C172.5 445.0 173.2 450.5 173.7 453.3 C174.2 456.1 175.3 461.7 175.3 461.7 C175.3 461.7 171.8 460.0 170.0 460.0 C168.2 460.0 164.2 461.7 164.2 461.7 C164.2 461.7 163.9 455.8 163.3 453.3 C162.7 450.8 161.6 448.5 160.8 446.7 C160.0 444.9 159.6 443.8 158.3 442.5 C157.1 441.2 155.2 439.9 153.3 439.2 C151.4 438.5 148.9 437.8 146.7 438.3 C144.5 438.9 141.9 440.8 140.0 442.5 C138.1 444.2 136.4 446.2 135.0 448.3 C133.6 450.4 132.8 452.2 131.7 455.0 C130.6 457.8 129.4 461.1 128.5 465.0 C127.6 468.9 126.9 474.1 126.3 478.3 C125.7 482.5 125.2 485.8 125.0 490.0 C124.8 494.2 125.1 498.3 125.3 503.3 C125.5 508.3 126.0 514.7 126.3 520.0 C126.6 525.3 127.3 535.2 127.3 535.2 C127.3 535.2 115.7 535.2 115.7 535.2 C115.7 535.2 115.4 525.3 115.0 520.0 C114.6 514.7 113.8 510.2 113.3 503.3 C112.8 496.4 111.8 486.6 111.7 478.3 C111.6 470.0 112.1 460.2 112.5 453.3 C112.9 446.4 113.4 441.4 114.2 436.7 C115.0 432.0 116.1 428.9 117.5 425.0 C118.9 421.1 120.4 416.8 122.5 413.0 C124.6 409.2 127.4 405.2 130.0 402.5 C132.6 399.8 135.5 398.4 138.3 396.7 C141.1 395.0 144.2 394.2 146.7 392.5 C149.2 390.8 151.8 389.1 153.3 386.7 C154.8 384.3 155.5 381.4 155.8 378.3 C156.1 375.2 155.6 371.5 155.0 368.3 C154.4 365.1 152.5 359.2 152.5 359.2 Z" fill="url(#gNPel)"/>
<g clip-path="url(#cpNPel)">
<path d="M152.5 359.2 C152.5 359.2 157.0 362.2 159.2 362.5 C161.4 362.8 165.8 360.8 165.8 360.8 C165.8 360.8 166.8 364.8 167.5 366.7 C168.2 368.6 170.0 372.5 170.0 372.5 C170.0 372.5 172.5 366.9 174.0 364.0 C175.5 361.1 179.2 355.0 179.2 355.0 C179.2 355.0 182.3 359.1 184.0 361.0 C185.7 362.9 189.2 366.7 189.2 366.7 C189.2 366.7 184.1 368.2 181.7 370.0 C179.3 371.8 176.5 375.3 175.0 377.5 C173.5 379.7 172.5 383.0 172.5 383.0 C172.5 383.0 177.6 386.1 180.0 386.7 C182.4 387.3 184.9 387.3 186.7 386.7 C188.5 386.1 190.8 383.3 190.8 383.3 C190.8 383.3 188.6 389.1 189.2 391.7 C189.8 394.3 194.2 399.2 194.2 399.2 C194.2 399.2 188.9 400.3 186.7 401.7 C184.5 403.1 182.2 405.6 180.8 407.5 C179.4 409.4 178.4 411.5 178.3 413.3 C178.2 415.1 178.6 417.2 180.0 418.3 C181.4 419.4 183.9 420.4 186.7 420.0 C189.5 419.6 196.7 415.8 196.7 415.8 C196.7 415.8 192.9 421.1 192.5 423.3 C192.1 425.5 194.2 429.2 194.2 429.2 C194.2 429.2 190.1 428.0 188.3 428.3 C186.5 428.6 183.9 429.6 183.3 430.8 C182.8 432.1 184.2 434.3 185.0 435.8 C185.8 437.3 188.3 440.0 188.3 440.0 C188.3 440.0 183.6 442.5 181.7 443.3 C179.8 444.1 178.0 445.0 176.7 445.0 C175.4 445.0 174.4 443.3 173.7 443.3 C173.0 443.3 172.5 445.0 172.5 445.0 C172.5 445.0 173.2 450.5 173.7 453.3 C174.2 456.1 175.3 461.7 175.3 461.7 C175.3 461.7 171.8 460.0 170.0 460.0 C168.2 460.0 164.2 461.7 164.2 461.7 C164.2 461.7 163.9 455.8 163.3 453.3 C162.7 450.8 161.6 448.5 160.8 446.7 C160.0 444.9 159.6 443.8 158.3 442.5 C157.1 441.2 155.2 439.9 153.3 439.2 C151.4 438.5 148.9 437.8 146.7 438.3 C144.5 438.9 141.9 440.8 140.0 442.5 C138.1 444.2 136.4 446.2 135.0 448.3 C133.6 450.4 132.8 452.2 131.7 455.0 C130.6 457.8 129.4 461.1 128.5 465.0 C127.6 468.9 126.9 474.1 126.3 478.3 C125.7 482.5 125.2 485.8 125.0 490.0 C124.8 494.2 125.1 498.3 125.3 503.3 C125.5 508.3 126.0 514.7 126.3 520.0 C126.6 525.3 127.3 535.2 127.3 535.2 C127.3 535.2 115.7 535.2 115.7 535.2 C115.7 535.2 115.4 525.3 115.0 520.0 C114.6 514.7 113.8 510.2 113.3 503.3 C112.8 496.4 111.8 486.6 111.7 478.3 C111.6 470.0 112.1 460.2 112.5 453.3 C112.9 446.4 113.4 441.4 114.2 436.7 C115.0 432.0 116.1 428.9 117.5 425.0 C118.9 421.1 120.4 416.8 122.5 413.0 C124.6 409.2 127.4 405.2 130.0 402.5 C132.6 399.8 135.5 398.4 138.3 396.7 C141.1 395.0 144.2 394.2 146.7 392.5 C149.2 390.8 151.8 389.1 153.3 386.7 C154.8 384.3 155.5 381.4 155.8 378.3 C156.1 375.2 155.6 371.5 155.0 368.3 C154.4 365.1 152.5 359.2 152.5 359.2 Z" fill="none" stroke="#b08a58" stroke-opacity="0.7" stroke-width="4" filter="url(#b1)"/>
<ellipse cx="128" cy="420" rx="6" ry="26" transform="rotate(28 128 420)" fill="#fbdcc6" opacity="0.85" filter="url(#b2)"/>
<ellipse cx="160" cy="400" rx="14" ry="10" fill="#f6d3b8" opacity="0.7" filter="url(#b2)"/>
</g>
<path d="M165.8 439 C162 440.5 160 444 161.2 448 C162.5 452 164 455 164.8 458 C168 459 172 458.5 174.6 457 C173.8 453 173 448 171.8 445 C170.8 441.5 168.5 439 165.8 439 Z" fill="#d4b285" stroke="#948044" stroke-width="1.3" filter="url(#b05)"/>
<path d="M176.7 433.3 C173.5 434 171.6 436.5 172.2 439.5 C173.5 442.5 176 444.5 178.5 445.2 C181.5 445 184.5 443.8 186.6 442.3 C185.8 439.5 184.5 437 182.8 435.3 C181 433.7 178.8 433 176.7 433.3 Z" fill="#d4b285" stroke="#948044" stroke-width="1.3" filter="url(#b05)"/>
</g>
<defs><g id="pk">
<path d="M1040.0 106.0 C1046.8 105.1 1054.2 106.2 1060.0 107.5 C1065.8 108.8 1070.0 110.7 1075.0 113.8 C1080.0 116.8 1085.8 122.6 1090.0 126.0 C1094.2 129.4 1096.7 130.8 1100.0 134.0 C1103.3 137.2 1106.7 140.9 1110.0 145.0 C1113.3 149.1 1116.2 155.2 1120.0 158.8 C1123.8 162.2 1129.2 162.5 1132.5 166.0 C1135.8 169.5 1137.5 175.2 1140.0 180.0 C1142.5 184.8 1145.0 190.4 1147.5 195.0 C1150.0 199.6 1153.1 202.5 1155.0 207.5 C1156.9 212.5 1158.3 219.2 1158.8 225.0 C1159.2 230.8 1156.9 237.5 1157.5 242.5 C1158.1 247.5 1160.4 250.8 1162.5 255.0 C1164.6 259.2 1168.5 263.8 1170.0 268.0 C1171.5 272.2 1171.5 275.9 1171.5 280.0 C1171.5 284.1 1170.0 288.5 1170.0 292.5 C1170.0 296.5 1170.2 300.2 1171.2 303.8 C1172.3 307.3 1175.6 310.2 1176.2 313.8 C1176.9 317.3 1176.2 321.9 1175.0 325.0 C1173.8 328.1 1170.4 329.6 1168.8 332.5 C1167.1 335.4 1165.8 337.9 1165.0 342.5 C1164.2 347.1 1164.2 355.0 1163.8 360.0 C1163.3 365.0 1162.1 368.3 1162.5 372.5 C1162.9 376.7 1165.8 380.4 1166.2 385.0 C1166.7 389.6 1166.0 395.8 1165.0 400.0 C1164.0 404.2 1162.1 406.7 1160.0 410.0 C1157.9 413.3 1154.2 416.3 1152.5 420.0 C1150.8 423.7 1151.1 428.5 1150.0 432.0 C1148.9 435.5 1148.2 437.9 1146.0 441.0 C1143.8 444.1 1140.2 447.3 1137.0 450.5 C1133.8 453.7 1129.8 456.6 1127.0 460.0 C1124.2 463.4 1122.3 467.4 1120.0 471.0 C1117.7 474.6 1116.2 477.8 1113.0 481.5 C1109.8 485.2 1105.3 489.8 1101.0 493.0 C1096.7 496.2 1091.3 498.5 1087.0 500.5 C1082.7 502.5 1079.1 503.4 1075.0 505.0 C1070.9 506.6 1067.5 508.8 1062.5 510.0 C1057.5 511.2 1051.2 512.5 1045.0 512.5 C1038.8 512.5 1031.2 512.1 1025.0 510.0 C1018.8 507.9 1012.5 502.3 1007.5 500.0 C1002.5 497.7 999.6 497.0 995.0 496.0 C990.4 495.0 985.0 495.6 980.0 493.8 C975.0 491.9 968.8 489.0 965.0 485.0 C961.2 481.0 959.4 475.8 957.5 470.0 C955.6 464.2 954.4 457.5 953.8 450.0 C953.1 442.5 952.9 432.1 953.8 425.0 C954.6 417.9 956.9 413.3 958.8 407.5 C960.6 401.7 962.3 395.0 965.0 390.0 C967.7 385.0 971.2 381.0 975.0 377.5 C978.8 374.0 982.5 369.7 987.5 368.8 C992.5 367.8 999.6 370.1 1005.0 372.0 C1010.4 373.9 1015.0 380.0 1020.0 380.0 C1025.0 380.0 1031.7 375.3 1035.0 372.0 C1038.3 368.7 1038.8 364.5 1040.0 360.0 C1041.2 355.5 1042.0 350.8 1042.0 345.0 C1042.0 339.2 1040.7 331.7 1040.0 325.0 C1039.3 318.3 1039.7 310.0 1038.0 305.0 C1036.3 300.0 1033.4 297.5 1030.0 295.0 C1026.6 292.5 1022.5 290.7 1017.5 290.0 C1012.5 289.3 1005.4 290.7 1000.0 291.0 C994.6 291.3 989.1 291.3 985.0 292.0 C980.9 292.7 977.8 294.9 975.5 295.0 C973.2 295.1 973.2 293.3 971.0 292.5 C968.8 291.7 965.2 291.0 962.2 290.3 C959.2 289.6 956.2 289.7 953.3 288.3 C950.4 286.9 947.2 284.7 945.0 282.0 C942.8 279.3 941.2 275.7 940.0 272.0 C938.8 268.3 938.5 263.0 937.5 260.0 C936.5 257.0 936.0 255.8 934.0 254.0 C932.0 252.2 927.5 251.2 925.5 249.0 C923.5 246.8 922.3 243.8 922.0 241.0 C921.7 238.2 922.5 235.2 923.6 232.5 C924.7 229.8 928.1 227.2 928.5 225.0 C928.9 222.8 927.1 221.7 926.0 219.0 C924.9 216.3 922.5 212.5 922.0 209.0 C921.5 205.5 921.8 201.2 922.8 198.0 C923.8 194.8 926.9 193.0 928.3 190.0 C929.7 187.0 930.3 183.7 931.0 180.0 C931.7 176.3 931.9 171.8 932.4 168.1 C932.9 164.3 933.2 160.7 934.3 157.5 C935.4 154.3 936.6 151.6 939.0 149.0 C941.4 146.4 945.6 144.4 948.9 142.0 C952.2 139.6 954.7 136.9 958.6 134.5 C962.5 132.1 967.4 129.4 972.3 127.5 C977.2 125.6 982.9 124.6 987.8 123.3 C992.6 122.0 996.2 121.2 1001.4 119.5 C1006.6 117.8 1012.6 115.2 1019.0 113.0 C1025.4 110.8 1033.2 106.9 1040.0 106.0 Z" fill="#ad3446" stroke="#ad3446" stroke-width="2.2" transform="translate(-1.6 -1.2)"/>
<path d="M1040.0 106.0 C1046.8 105.1 1054.2 106.2 1060.0 107.5 C1065.8 108.8 1070.0 110.7 1075.0 113.8 C1080.0 116.8 1085.8 122.6 1090.0 126.0 C1094.2 129.4 1096.7 130.8 1100.0 134.0 C1103.3 137.2 1106.7 140.9 1110.0 145.0 C1113.3 149.1 1116.2 155.2 1120.0 158.8 C1123.8 162.2 1129.2 162.5 1132.5 166.0 C1135.8 169.5 1137.5 175.2 1140.0 180.0 C1142.5 184.8 1145.0 190.4 1147.5 195.0 C1150.0 199.6 1153.1 202.5 1155.0 207.5 C1156.9 212.5 1158.3 219.2 1158.8 225.0 C1159.2 230.8 1156.9 237.5 1157.5 242.5 C1158.1 247.5 1160.4 250.8 1162.5 255.0 C1164.6 259.2 1168.5 263.8 1170.0 268.0 C1171.5 272.2 1171.5 275.9 1171.5 280.0 C1171.5 284.1 1170.0 288.5 1170.0 292.5 C1170.0 296.5 1170.2 300.2 1171.2 303.8 C1172.3 307.3 1175.6 310.2 1176.2 313.8 C1176.9 317.3 1176.2 321.9 1175.0 325.0 C1173.8 328.1 1170.4 329.6 1168.8 332.5 C1167.1 335.4 1165.8 337.9 1165.0 342.5 C1164.2 347.1 1164.2 355.0 1163.8 360.0 C1163.3 365.0 1162.1 368.3 1162.5 372.5 C1162.9 376.7 1165.8 380.4 1166.2 385.0 C1166.7 389.6 1166.0 395.8 1165.0 400.0 C1164.0 404.2 1162.1 406.7 1160.0 410.0 C1157.9 413.3 1154.2 416.3 1152.5 420.0 C1150.8 423.7 1151.1 428.5 1150.0 432.0 C1148.9 435.5 1148.2 437.9 1146.0 441.0 C1143.8 444.1 1140.2 447.3 1137.0 450.5 C1133.8 453.7 1129.8 456.6 1127.0 460.0 C1124.2 463.4 1122.3 467.4 1120.0 471.0 C1117.7 474.6 1116.2 477.8 1113.0 481.5 C1109.8 485.2 1105.3 489.8 1101.0 493.0 C1096.7 496.2 1091.3 498.5 1087.0 500.5 C1082.7 502.5 1079.1 503.4 1075.0 505.0 C1070.9 506.6 1067.5 508.8 1062.5 510.0 C1057.5 511.2 1051.2 512.5 1045.0 512.5 C1038.8 512.5 1031.2 512.1 1025.0 510.0 C1018.8 507.9 1012.5 502.3 1007.5 500.0 C1002.5 497.7 999.6 497.0 995.0 496.0 C990.4 495.0 985.0 495.6 980.0 493.8 C975.0 491.9 968.8 489.0 965.0 485.0 C961.2 481.0 959.4 475.8 957.5 470.0 C955.6 464.2 954.4 457.5 953.8 450.0 C953.1 442.5 952.9 432.1 953.8 425.0 C954.6 417.9 956.9 413.3 958.8 407.5 C960.6 401.7 962.3 395.0 965.0 390.0 C967.7 385.0 971.2 381.0 975.0 377.5 C978.8 374.0 982.5 369.7 987.5 368.8 C992.5 367.8 999.6 370.1 1005.0 372.0 C1010.4 373.9 1015.0 380.0 1020.0 380.0 C1025.0 380.0 1031.7 375.3 1035.0 372.0 C1038.3 368.7 1038.8 364.5 1040.0 360.0 C1041.2 355.5 1042.0 350.8 1042.0 345.0 C1042.0 339.2 1040.7 331.7 1040.0 325.0 C1039.3 318.3 1039.7 310.0 1038.0 305.0 C1036.3 300.0 1033.4 297.5 1030.0 295.0 C1026.6 292.5 1022.5 290.7 1017.5 290.0 C1012.5 289.3 1005.4 290.7 1000.0 291.0 C994.6 291.3 989.1 291.3 985.0 292.0 C980.9 292.7 977.8 294.9 975.5 295.0 C973.2 295.1 973.2 293.3 971.0 292.5 C968.8 291.7 965.2 291.0 962.2 290.3 C959.2 289.6 956.2 289.7 953.3 288.3 C950.4 286.9 947.2 284.7 945.0 282.0 C942.8 279.3 941.2 275.7 940.0 272.0 C938.8 268.3 938.5 263.0 937.5 260.0 C936.5 257.0 936.0 255.8 934.0 254.0 C932.0 252.2 927.5 251.2 925.5 249.0 C923.5 246.8 922.3 243.8 922.0 241.0 C921.7 238.2 922.5 235.2 923.6 232.5 C924.7 229.8 928.1 227.2 928.5 225.0 C928.9 222.8 927.1 221.7 926.0 219.0 C924.9 216.3 922.5 212.5 922.0 209.0 C921.5 205.5 921.8 201.2 922.8 198.0 C923.8 194.8 926.9 193.0 928.3 190.0 C929.7 187.0 930.3 183.7 931.0 180.0 C931.7 176.3 931.9 171.8 932.4 168.1 C932.9 164.3 933.2 160.7 934.3 157.5 C935.4 154.3 936.6 151.6 939.0 149.0 C941.4 146.4 945.6 144.4 948.9 142.0 C952.2 139.6 954.7 136.9 958.6 134.5 C962.5 132.1 967.4 129.4 972.3 127.5 C977.2 125.6 982.9 124.6 987.8 123.3 C992.6 122.0 996.2 121.2 1001.4 119.5 C1006.6 117.8 1012.6 115.2 1019.0 113.0 C1025.4 110.8 1033.2 106.9 1040.0 106.0 Z" fill="url(#gBody)" stroke="#a43a4a" stroke-width="2.0" stroke-linejoin="round"/>
<g clip-path="url(#cpBody)">
<path d="M1040.0 106.0 C1046.8 105.1 1054.2 106.2 1060.0 107.5 C1065.8 108.8 1070.0 110.7 1075.0 113.8 C1080.0 116.8 1085.8 122.6 1090.0 126.0 C1094.2 129.4 1096.7 130.8 1100.0 134.0 C1103.3 137.2 1106.7 140.9 1110.0 145.0 C1113.3 149.1 1116.2 155.2 1120.0 158.8 C1123.8 162.2 1129.2 162.5 1132.5 166.0 C1135.8 169.5 1137.5 175.2 1140.0 180.0 C1142.5 184.8 1145.0 190.4 1147.5 195.0 C1150.0 199.6 1153.1 202.5 1155.0 207.5 C1156.9 212.5 1158.3 219.2 1158.8 225.0 C1159.2 230.8 1156.9 237.5 1157.5 242.5 C1158.1 247.5 1160.4 250.8 1162.5 255.0 C1164.6 259.2 1168.5 263.8 1170.0 268.0 C1171.5 272.2 1171.5 275.9 1171.5 280.0 C1171.5 284.1 1170.0 288.5 1170.0 292.5 C1170.0 296.5 1170.2 300.2 1171.2 303.8 C1172.3 307.3 1175.6 310.2 1176.2 313.8 C1176.9 317.3 1176.2 321.9 1175.0 325.0 C1173.8 328.1 1170.4 329.6 1168.8 332.5 C1167.1 335.4 1165.8 337.9 1165.0 342.5 C1164.2 347.1 1164.2 355.0 1163.8 360.0 C1163.3 365.0 1162.1 368.3 1162.5 372.5 C1162.9 376.7 1165.8 380.4 1166.2 385.0 C1166.7 389.6 1166.0 395.8 1165.0 400.0 C1164.0 404.2 1162.1 406.7 1160.0 410.0 C1157.9 413.3 1154.2 416.3 1152.5 420.0 C1150.8 423.7 1151.1 428.5 1150.0 432.0 C1148.9 435.5 1148.2 437.9 1146.0 441.0 C1143.8 444.1 1140.2 447.3 1137.0 450.5 C1133.8 453.7 1129.8 456.6 1127.0 460.0 C1124.2 463.4 1122.3 467.4 1120.0 471.0 C1117.7 474.6 1116.2 477.8 1113.0 481.5 C1109.8 485.2 1105.3 489.8 1101.0 493.0 C1096.7 496.2 1091.3 498.5 1087.0 500.5 C1082.7 502.5 1079.1 503.4 1075.0 505.0 C1070.9 506.6 1067.5 508.8 1062.5 510.0 C1057.5 511.2 1051.2 512.5 1045.0 512.5 C1038.8 512.5 1031.2 512.1 1025.0 510.0 C1018.8 507.9 1012.5 502.3 1007.5 500.0 C1002.5 497.7 999.6 497.0 995.0 496.0 C990.4 495.0 985.0 495.6 980.0 493.8 C975.0 491.9 968.8 489.0 965.0 485.0 C961.2 481.0 959.4 475.8 957.5 470.0 C955.6 464.2 954.4 457.5 953.8 450.0 C953.1 442.5 952.9 432.1 953.8 425.0 C954.6 417.9 956.9 413.3 958.8 407.5 C960.6 401.7 962.3 395.0 965.0 390.0 C967.7 385.0 971.2 381.0 975.0 377.5 C978.8 374.0 982.5 369.7 987.5 368.8 C992.5 367.8 999.6 370.1 1005.0 372.0 C1010.4 373.9 1015.0 380.0 1020.0 380.0 C1025.0 380.0 1031.7 375.3 1035.0 372.0 C1038.3 368.7 1038.8 364.5 1040.0 360.0 C1041.2 355.5 1042.0 350.8 1042.0 345.0 C1042.0 339.2 1040.7 331.7 1040.0 325.0 C1039.3 318.3 1039.7 310.0 1038.0 305.0 C1036.3 300.0 1033.4 297.5 1030.0 295.0 C1026.6 292.5 1022.5 290.7 1017.5 290.0 C1012.5 289.3 1005.4 290.7 1000.0 291.0 C994.6 291.3 989.1 291.3 985.0 292.0 C980.9 292.7 977.8 294.9 975.5 295.0 C973.2 295.1 973.2 293.3 971.0 292.5 C968.8 291.7 965.2 291.0 962.2 290.3 C959.2 289.6 956.2 289.7 953.3 288.3 C950.4 286.9 947.2 284.7 945.0 282.0 C942.8 279.3 941.2 275.7 940.0 272.0 C938.8 268.3 938.5 263.0 937.5 260.0 C936.5 257.0 936.0 255.8 934.0 254.0 C932.0 252.2 927.5 251.2 925.5 249.0 C923.5 246.8 922.3 243.8 922.0 241.0 C921.7 238.2 922.5 235.2 923.6 232.5 C924.7 229.8 928.1 227.2 928.5 225.0 C928.9 222.8 927.1 221.7 926.0 219.0 C924.9 216.3 922.5 212.5 922.0 209.0 C921.5 205.5 921.8 201.2 922.8 198.0 C923.8 194.8 926.9 193.0 928.3 190.0 C929.7 187.0 930.3 183.7 931.0 180.0 C931.7 176.3 931.9 171.8 932.4 168.1 C932.9 164.3 933.2 160.7 934.3 157.5 C935.4 154.3 936.6 151.6 939.0 149.0 C941.4 146.4 945.6 144.4 948.9 142.0 C952.2 139.6 954.7 136.9 958.6 134.5 C962.5 132.1 967.4 129.4 972.3 127.5 C977.2 125.6 982.9 124.6 987.8 123.3 C992.6 122.0 996.2 121.2 1001.4 119.5 C1006.6 117.8 1012.6 115.2 1019.0 113.0 C1025.4 110.8 1033.2 106.9 1040.0 106.0 Z" fill="none" stroke="#dc98a0" stroke-opacity="0.5" stroke-width="9" filter="url(#b2)"/>
<ellipse cx="1052" cy="168" rx="60" ry="36" fill="#8e3f4e" opacity="0.5" filter="url(#b12)"/>
<ellipse cx="990" cy="450" rx="45" ry="45" fill="#95424f" opacity="0.25" filter="url(#b12)"/>
<ellipse cx="1070" cy="425" rx="75" ry="42" fill="#8e3f4e" opacity="0.38" filter="url(#b12)"/>
<ellipse cx="965" cy="150" rx="35" ry="30" fill="#d58c96" opacity="0.3" filter="url(#b12)"/>
<ellipse cx="1106" cy="215" rx="14" ry="22" fill="#8e3f4e" opacity="0.35" filter="url(#b6)"/>
<ellipse cx="1110" cy="300" rx="38" ry="95" fill="#d88e96" opacity="0.36" filter="url(#b12)"/>
<path d="M1011.5 216 C1000 206 985 190 981 173 C987 160 1002 155 1014 156 C1026 157 1036 165 1039.5 176 C1038 192 1026 207 1011.5 216 Z" fill="#a9607a" opacity="0.55" filter="url(#b1)"/>
<path d="M1039 178 C1037 193 1026 207 1012 216 C1022 203 1030 190 1033 176 Z" fill="#d79aa8" opacity="0.5" filter="url(#b1)"/>
<path d="M986.8 180.7 L996.9 202.3 M991.7 177.8 L1002.7 202.1 M997.5 176.6 L1008.6 201.8 M1003.4 176.8 L1013.7 201.1 M1009.2 178.0 L1017.9 199.6" stroke="url(#gStr1)" stroke-width="2.1" fill="none" filter="url(#b05)"/>
<path d="M1008 205 L1013 217" stroke="#f0c8d0" stroke-width="2.2" stroke-opacity="0.55" filter="url(#b1)"/>
<path d="M1064 273 C1070 255 1085 240 1103 236 C1118 246 1128 258 1130 268 C1124 284 1108 296 1090 300 C1078 292 1068 283 1064 273 Z" fill="#dea0ac" opacity="0.36" filter="url(#b2)"/>
<path d="M1066 273 L1092 247 M1066 273 L1100 254 M1066 273 L1094 284 M1066 273 L1086 291 M1066 273 L1102 277" stroke="#f3d0d6" stroke-width="2.2" stroke-opacity="0.24" fill="none" filter="url(#b1)"/>
<path d="M1083 270.5 L1104 265 M1086 273.8 L1101 271" stroke="#ea827c" stroke-width="2.4" stroke-opacity="0.9" fill="none" filter="url(#b09)"/>
</g>
<g clip-path="url(#cpBody)">
<g filter="url(#b2)" opacity="0.5">
<ellipse cx="1049.3" cy="124.4" rx="31.7" ry="15.95" transform="rotate(8 1049.3 124.4)" fill="#8c3c4c"/>
<ellipse cx="956.8" cy="161.9" rx="18.2" ry="19.2" fill="#8c3c4c"/>
<ellipse cx="1015.55" cy="155.65" rx="9.7" ry="9.7" fill="#8c3c4c"/>
<ellipse cx="1096.8" cy="151.9" rx="14.7" ry="15.2" fill="#8c3c4c"/>
<ellipse cx="1124.3" cy="176.9" rx="12.7" ry="13.2" fill="#8c3c4c"/>
<ellipse cx="1072.8" cy="193.15" rx="25.2" ry="20.2" transform="rotate(-10 1072.8 193.15)" fill="#8c3c4c"/>
<ellipse cx="986.8" cy="209.4" rx="20.2" ry="20.7" fill="#8c3c4c"/>
<ellipse cx="939.3" cy="206.9" rx="14.7" ry="15.95" fill="#8c3c4c"/>
<ellipse cx="947.8" cy="226.9" rx="7.2" ry="7.2" fill="#8c3c4c"/>
<ellipse cx="935.8" cy="239.4" rx="9.2" ry="10.2" fill="#8c3c4c"/>
<ellipse cx="995.55" cy="235.4" rx="6.7" ry="6.7" fill="#8c3c4c"/>
<ellipse cx="1142.8" cy="214.4" rx="15.95" ry="27.2" transform="rotate(-15 1142.8 214.4)" fill="#8c3c4c"/>
<ellipse cx="1040.55" cy="246.9" rx="24.2" ry="23.2" fill="#8c3c4c"/>
<ellipse cx="1116.8" cy="239.4" rx="13.7" ry="18.7" transform="rotate(-38 1116.8 239.4)" fill="#8c3c4c"/>
<ellipse cx="960.8" cy="267.4" rx="22.2" ry="19.2" fill="#8c3c4c"/>
<ellipse cx="1154.3" cy="281.4" rx="19.2" ry="25.2" fill="#8c3c4c"/>
<ellipse cx="1003.8" cy="275.2" rx="21.8" ry="14.7" transform="rotate(-8 1003.8 275.2)" fill="#8c3c4c"/>
<ellipse cx="1054.3" cy="281.9" rx="13.7" ry="16.2" transform="rotate(25 1054.3 281.9)" fill="#8c3c4c"/>
<ellipse cx="1164.3" cy="316.9" rx="13.2" ry="14.2" fill="#8c3c4c"/>
<ellipse cx="1064.3" cy="326.9" rx="17.2" ry="23.2" transform="rotate(-10 1064.3 326.9)" fill="#8c3c4c"/>
<ellipse cx="1127.8" cy="330.4" rx="20.2" ry="24.7" transform="rotate(10 1127.8 330.4)" fill="#8c3c4c"/>
<ellipse cx="1097.8" cy="359.4" rx="19.2" ry="20.95" fill="#8c3c4c"/>
<ellipse cx="1147.8" cy="390.4" rx="19.7" ry="23.2" fill="#8c3c4c"/>
<ellipse cx="1054.3" cy="384.4" rx="21.2" ry="18.2" fill="#8c3c4c"/>
<ellipse cx="999.3" cy="386.9" rx="17.2" ry="19.7" fill="#8c3c4c"/>
<ellipse cx="1096.8" cy="401.9" rx="15.2" ry="16.2" fill="#8c3c4c"/>
<ellipse cx="969.8" cy="413.4" rx="14.2" ry="17.2" fill="#8c3c4c"/>
<ellipse cx="992.8" cy="414.4" rx="7.2" ry="7.2" fill="#8c3c4c"/>
<ellipse cx="1018.3" cy="422.9" rx="22.7" ry="18.7" transform="rotate(-33 1018.3 422.9)" fill="#8c3c4c"/>
<ellipse cx="1119.3" cy="419.4" rx="6.7" ry="6.7" fill="#8c3c4c"/>
<ellipse cx="1137.3" cy="426.4" rx="12.7" ry="14.2" fill="#8c3c4c"/>
<ellipse cx="1105.8" cy="434.9" rx="9.2" ry="9.7" fill="#8c3c4c"/>
<ellipse cx="1065.8" cy="441.9" rx="22.2" ry="18.2" transform="rotate(-20 1065.8 441.9)" fill="#8c3c4c"/>
<ellipse cx="962.8" cy="438.4" rx="9.2" ry="9.7" fill="#8c3c4c"/>
<ellipse cx="1014.3" cy="460.4" rx="12.2" ry="14.7" transform="rotate(20 1014.3 460.4)" fill="#8c3c4c"/>
<ellipse cx="981.8" cy="471.9" rx="22.2" ry="16.2" transform="rotate(15 981.8 471.9)" fill="#8c3c4c"/>
<ellipse cx="1042.8" cy="489.4" rx="27.2" ry="17.2" transform="rotate(5 1042.8 489.4)" fill="#8c3c4c"/>
<ellipse cx="1090.8" cy="480.4" rx="18.2" ry="12.7" transform="rotate(-25 1090.8 480.4)" fill="#8c3c4c"/>
</g>
<g filter="url(#b05)" opacity="0.8">
<ellipse cx="1046.8" cy="125.9" rx="30.4" ry="14.65" transform="rotate(8 1046.8 125.9)" fill="#dc98a2"/>
<ellipse cx="954.3" cy="163.4" rx="16.9" ry="17.9" fill="#dc98a2"/>
<ellipse cx="1013.05" cy="157.15" rx="8.4" ry="8.4" fill="#dc98a2"/>
<ellipse cx="1094.3" cy="153.4" rx="13.4" ry="13.9" fill="#dc98a2"/>
<ellipse cx="1121.8" cy="178.4" rx="11.4" ry="11.9" fill="#dc98a2"/>
<ellipse cx="1070.3" cy="194.65" rx="23.9" ry="18.9" transform="rotate(-10 1070.3 194.65)" fill="#dc98a2"/>
<ellipse cx="984.3" cy="210.9" rx="18.9" ry="19.4" fill="#dc98a2"/>
<ellipse cx="936.8" cy="208.4" rx="13.4" ry="14.65" fill="#dc98a2"/>
<ellipse cx="945.3" cy="228.4" rx="5.9" ry="5.9" fill="#dc98a2"/>
<ellipse cx="933.3" cy="240.9" rx="7.9" ry="8.9" fill="#dc98a2"/>
<ellipse cx="993.05" cy="236.9" rx="5.4" ry="5.4" fill="#dc98a2"/>
<ellipse cx="1140.3" cy="215.9" rx="14.65" ry="25.9" transform="rotate(-15 1140.3 215.9)" fill="#dc98a2"/>
<ellipse cx="1038.05" cy="248.4" rx="22.9" ry="21.9" fill="#dc98a2"/>
<ellipse cx="1114.3" cy="240.9" rx="12.4" ry="17.4" transform="rotate(-38 1114.3 240.9)" fill="#dc98a2"/>
<ellipse cx="958.3" cy="268.9" rx="20.9" ry="17.9" fill="#dc98a2"/>
<ellipse cx="1151.8" cy="282.9" rx="17.9" ry="23.9" fill="#dc98a2"/>
<ellipse cx="1001.3" cy="276.7" rx="20.5" ry="13.4" transform="rotate(-8 1001.3 276.7)" fill="#dc98a2"/>
<ellipse cx="1051.8" cy="283.4" rx="12.4" ry="14.9" transform="rotate(25 1051.8 283.4)" fill="#dc98a2"/>
<ellipse cx="1161.8" cy="318.4" rx="11.9" ry="12.9" fill="#dc98a2"/>
<ellipse cx="1061.8" cy="328.4" rx="15.9" ry="21.9" transform="rotate(-10 1061.8 328.4)" fill="#dc98a2"/>
<ellipse cx="1125.3" cy="331.9" rx="18.9" ry="23.4" transform="rotate(10 1125.3 331.9)" fill="#dc98a2"/>
<ellipse cx="1095.3" cy="360.9" rx="17.9" ry="19.65" fill="#dc98a2"/>
<ellipse cx="1145.3" cy="391.9" rx="18.4" ry="21.9" fill="#dc98a2"/>
<ellipse cx="1051.8" cy="385.9" rx="19.9" ry="16.9" fill="#dc98a2"/>
<ellipse cx="996.8" cy="388.4" rx="15.9" ry="18.4" fill="#dc98a2"/>
<ellipse cx="1094.3" cy="403.4" rx="13.9" ry="14.9" fill="#dc98a2"/>
<ellipse cx="967.3" cy="414.9" rx="12.9" ry="15.9" fill="#dc98a2"/>
<ellipse cx="990.3" cy="415.9" rx="5.9" ry="5.9" fill="#dc98a2"/>
<ellipse cx="1015.8" cy="424.4" rx="21.4" ry="17.4" transform="rotate(-33 1015.8 424.4)" fill="#dc98a2"/>
<ellipse cx="1116.8" cy="420.9" rx="5.4" ry="5.4" fill="#dc98a2"/>
<ellipse cx="1134.8" cy="427.9" rx="11.4" ry="12.9" fill="#dc98a2"/>
<ellipse cx="1103.3" cy="436.4" rx="7.9" ry="8.4" fill="#dc98a2"/>
<ellipse cx="1063.3" cy="443.4" rx="20.9" ry="16.9" transform="rotate(-20 1063.3 443.4)" fill="#dc98a2"/>
<ellipse cx="960.3" cy="439.9" rx="7.9" ry="8.4" fill="#dc98a2"/>
<ellipse cx="1011.8" cy="461.9" rx="10.9" ry="13.4" transform="rotate(20 1011.8 461.9)" fill="#dc98a2"/>
<ellipse cx="979.3" cy="473.4" rx="20.9" ry="14.9" transform="rotate(15 979.3 473.4)" fill="#dc98a2"/>
<ellipse cx="1040.3" cy="490.9" rx="25.9" ry="15.9" transform="rotate(5 1040.3 490.9)" fill="#dc98a2"/>
<ellipse cx="1088.3" cy="481.9" rx="16.9" ry="11.4" transform="rotate(-25 1088.3 481.9)" fill="#dc98a2"/>
</g>
</g>
<g filter="url(#b05)">
<path d="M974.5 293.0 C971.2 294.6 969.4 296.5 967.0 298.5 C964.6 300.5 962.5 302.0 960.0 305.0 C957.5 308.0 954.2 312.5 951.7 316.7 C949.2 320.9 947.2 325.0 945.0 330.0 C942.8 335.0 940.1 341.1 938.3 346.7 C936.5 352.2 935.3 357.8 934.2 363.3 C933.1 368.9 932.4 374.4 931.7 380.0 C931.1 385.6 930.6 390.6 930.3 396.7 C930.0 402.8 929.7 409.5 929.7 416.7 C929.7 423.9 930.2 433.7 930.5 440.0 C930.8 446.3 930.9 446.5 931.5 454.7 C932.1 462.9 933.2 477.8 934.1 489.4 C935.0 501.0 936.1 516.0 936.7 524.2 C937.3 532.5 937.6 538.9 937.6 538.9 C937.6 538.9 957.2 538.9 957.2 538.9 C957.2 538.9 957.0 532.5 956.7 524.2 C956.4 516.0 955.8 501.0 955.3 489.4 C954.8 477.8 954.3 465.4 954.0 454.7 C953.7 444.0 952.8 432.9 953.6 425.0 C954.4 417.1 956.9 413.3 958.8 407.5 C960.6 401.7 962.3 395.0 965.0 390.0 C967.7 385.0 971.2 381.0 975.0 377.5 C978.8 374.0 982.8 369.9 987.5 369.0 C992.2 368.1 998.6 370.5 1003.0 372.0 C1007.4 373.5 1011.2 376.0 1014.0 378.0 C1016.8 380.0 1018.2 382.9 1020.0 384.0 C1021.8 385.1 1022.3 385.2 1025.0 384.5 C1027.7 383.8 1032.5 382.4 1036.0 380.0 C1039.5 377.6 1043.2 373.9 1046.0 370.0 C1048.8 366.1 1051.1 361.9 1052.8 356.7 C1054.5 351.5 1055.4 345.6 1056.0 338.9 C1056.6 332.2 1056.9 323.4 1056.6 316.7 C1056.2 310.0 1055.8 304.5 1053.9 298.9 C1052.0 293.3 1047.7 286.7 1045.0 283.3 C1042.3 279.9 1040.2 279.6 1038.0 278.5 C1035.8 277.4 1035.0 276.6 1031.7 277.0 C1028.4 277.4 1023.1 279.7 1018.3 281.0 C1013.5 282.3 1008.2 283.6 1003.0 285.0 C997.8 286.4 991.8 287.9 987.0 289.2 C982.2 290.5 977.8 291.4 974.5 293.0 Z" fill="url(#gPelvis)"/>
<g clip-path="url(#cpPelvis)">
<path d="M974.5 293.0 C971.2 294.6 969.4 296.5 967.0 298.5 C964.6 300.5 962.5 302.0 960.0 305.0 C957.5 308.0 954.2 312.5 951.7 316.7 C949.2 320.9 947.2 325.0 945.0 330.0 C942.8 335.0 940.1 341.1 938.3 346.7 C936.5 352.2 935.3 357.8 934.2 363.3 C933.1 368.9 932.4 374.4 931.7 380.0 C931.1 385.6 930.6 390.6 930.3 396.7 C930.0 402.8 929.7 409.5 929.7 416.7 C929.7 423.9 930.2 433.7 930.5 440.0 C930.8 446.3 930.9 446.5 931.5 454.7 C932.1 462.9 933.2 477.8 934.1 489.4 C935.0 501.0 936.1 516.0 936.7 524.2 C937.3 532.5 937.6 538.9 937.6 538.9 C937.6 538.9 957.2 538.9 957.2 538.9 C957.2 538.9 957.0 532.5 956.7 524.2 C956.4 516.0 955.8 501.0 955.3 489.4 C954.8 477.8 954.3 465.4 954.0 454.7 C953.7 444.0 952.8 432.9 953.6 425.0 C954.4 417.1 956.9 413.3 958.8 407.5 C960.6 401.7 962.3 395.0 965.0 390.0 C967.7 385.0 971.2 381.0 975.0 377.5 C978.8 374.0 982.8 369.9 987.5 369.0 C992.2 368.1 998.6 370.5 1003.0 372.0 C1007.4 373.5 1011.2 376.0 1014.0 378.0 C1016.8 380.0 1018.2 382.9 1020.0 384.0 C1021.8 385.1 1022.3 385.2 1025.0 384.5 C1027.7 383.8 1032.5 382.4 1036.0 380.0 C1039.5 377.6 1043.2 373.9 1046.0 370.0 C1048.8 366.1 1051.1 361.9 1052.8 356.7 C1054.5 351.5 1055.4 345.6 1056.0 338.9 C1056.6 332.2 1056.9 323.4 1056.6 316.7 C1056.2 310.0 1055.8 304.5 1053.9 298.9 C1052.0 293.3 1047.7 286.7 1045.0 283.3 C1042.3 279.9 1040.2 279.6 1038.0 278.5 C1035.8 277.4 1035.0 276.6 1031.7 277.0 C1028.4 277.4 1023.1 279.7 1018.3 281.0 C1013.5 282.3 1008.2 283.6 1003.0 285.0 C997.8 286.4 991.8 287.9 987.0 289.2 C982.2 290.5 977.8 291.4 974.5 293.0 Z" fill="none" stroke="#a87e52" stroke-opacity="0.65" stroke-width="5" filter="url(#b2)"/>
<ellipse cx="966" cy="345" rx="13" ry="42" transform="rotate(25 966 345)" fill="#fbdcc4" opacity="0.85" filter="url(#b6)"/>
<ellipse cx="1054" cy="335" rx="13" ry="55" fill="#a9824e" opacity="0.5" filter="url(#b6)"/>
</g>
</g>
<g filter="url(#b09)">
<ellipse cx="1047.5" cy="125" rx="29.9" ry="14.15" transform="rotate(8 1047.5 125)" fill="url(#gCyst)"/>
<ellipse cx="955" cy="162.5" rx="16.4" ry="17.4" fill="url(#gCyst)"/>
<ellipse cx="1013.75" cy="156.25" rx="7.9" ry="7.9" fill="url(#gCyst)"/>
<ellipse cx="1095" cy="152.5" rx="12.9" ry="13.4" fill="url(#gCyst)"/>
<ellipse cx="1122.5" cy="177.5" rx="10.9" ry="11.4" fill="url(#gCyst)"/>
<ellipse cx="1071" cy="193.75" rx="23.4" ry="18.4" transform="rotate(-10 1071 193.75)" fill="url(#gCyst)"/>
<ellipse cx="985" cy="210" rx="18.4" ry="18.9" fill="url(#gCyst)"/>
<ellipse cx="937.5" cy="207.5" rx="12.9" ry="14.15" fill="url(#gCyst)"/>
<ellipse cx="946" cy="227.5" rx="5.4" ry="5.4" fill="url(#gCyst)"/>
<ellipse cx="934" cy="240" rx="7.4" ry="8.4" fill="url(#gCyst)"/>
<ellipse cx="993.75" cy="236" rx="4.9" ry="4.9" fill="url(#gCyst)"/>
<ellipse cx="1141" cy="215" rx="14.15" ry="25.4" transform="rotate(-15 1141 215)" fill="url(#gCyst)"/>
<ellipse cx="1038.75" cy="247.5" rx="22.4" ry="21.4" fill="url(#gCyst)"/>
<ellipse cx="1115" cy="240" rx="11.9" ry="16.9" transform="rotate(-38 1115 240)" fill="url(#gCyst)"/>
<ellipse cx="959" cy="268" rx="20.4" ry="17.4" fill="url(#gCyst)"/>
<ellipse cx="1152.5" cy="282" rx="17.4" ry="23.4" fill="url(#gCyst)"/>
<ellipse cx="1002" cy="275.8" rx="20" ry="12.9" transform="rotate(-8 1002 275.8)" fill="url(#gCyst)"/>
<ellipse cx="1052.5" cy="282.5" rx="11.9" ry="14.4" transform="rotate(25 1052.5 282.5)" fill="url(#gCyst)"/>
<ellipse cx="1162.5" cy="317.5" rx="11.4" ry="12.4" fill="url(#gCyst)"/>
<ellipse cx="1062.5" cy="327.5" rx="15.4" ry="21.4" transform="rotate(-10 1062.5 327.5)" fill="url(#gCyst)"/>
<ellipse cx="1126" cy="331" rx="18.4" ry="22.9" transform="rotate(10 1126 331)" fill="url(#gCyst)"/>
<ellipse cx="1096" cy="360" rx="17.4" ry="19.15" fill="url(#gCyst)"/>
<ellipse cx="1146" cy="391" rx="17.9" ry="21.4" fill="url(#gCyst)"/>
<ellipse cx="1052.5" cy="385" rx="19.4" ry="16.4" fill="url(#gCyst)"/>
<ellipse cx="997.5" cy="387.5" rx="15.4" ry="17.9" fill="url(#gCyst)"/>
<ellipse cx="1095" cy="402.5" rx="13.4" ry="14.4" fill="url(#gCyst)"/>
<ellipse cx="968" cy="414" rx="12.4" ry="15.4" fill="url(#gCyst)"/>
<ellipse cx="991" cy="415" rx="5.4" ry="5.4" fill="url(#gCyst)"/>
<ellipse cx="1016.5" cy="423.5" rx="20.9" ry="16.9" transform="rotate(-33 1016.5 423.5)" fill="url(#gCyst)"/>
<ellipse cx="1117.5" cy="420" rx="4.9" ry="4.9" fill="url(#gCyst)"/>
<ellipse cx="1135.5" cy="427" rx="10.9" ry="12.4" fill="url(#gCyst)"/>
<ellipse cx="1104" cy="435.5" rx="7.4" ry="7.9" fill="url(#gCyst)"/>
<ellipse cx="1064" cy="442.5" rx="20.4" ry="16.4" transform="rotate(-20 1064 442.5)" fill="url(#gCyst)"/>
<ellipse cx="961" cy="439" rx="7.4" ry="7.9" fill="url(#gCyst)"/>
<ellipse cx="1012.5" cy="461" rx="10.4" ry="12.9" transform="rotate(20 1012.5 461)" fill="url(#gCyst)"/>
<ellipse cx="980" cy="472.5" rx="20.4" ry="14.4" transform="rotate(15 980 472.5)" fill="url(#gCyst)"/>
<ellipse cx="1041" cy="490" rx="25.4" ry="15.4" transform="rotate(5 1041 490)" fill="url(#gCyst)"/>
<ellipse cx="1089" cy="481" rx="16.4" ry="10.9" transform="rotate(-25 1089 481)" fill="url(#gCyst)"/>
</g>
<g mask="url(#mPelvisX)">
<ellipse cx="1002" cy="275.8" rx="18.8" ry="11.7" transform="rotate(-8 1002 275.8)" fill="#806232" opacity="0.9" filter="url(#b1)"/>
<ellipse cx="1062.5" cy="327.5" rx="14.2" ry="20.2" transform="rotate(-10 1062.5 327.5)" fill="#806232" opacity="0.9" filter="url(#b1)"/>
<ellipse cx="1052.5" cy="385" rx="18.2" ry="15.2" fill="#806232" opacity="0.9" filter="url(#b1)"/>
<ellipse cx="997.5" cy="387.5" rx="14.2" ry="16.7" fill="#806232" opacity="0.9" filter="url(#b1)"/>
</g>
</g></defs>
<use href="#pk"/>
<use href="#pk" transform="translate(-2.42 155.57) scale(0.7010 0.7075)"/>
<use href="#pk" transform="translate(-140.96 229.06) scale(0.5655 0.5696)"/>


<!-- labels -->
<text class="bk" x="169" y="577.7" font-size="22.7" text-anchor="middle">Normal kidney</text>
<text class="bk" x="169" y="599.3" font-size="16.45" text-anchor="middle">(volume approx. 0.22 L)</text>
<text class="bk" x="433" y="586.3" font-size="22.7" text-anchor="middle">Kidney with APKD</text>
<text class="bk" x="720.5" y="577.5" font-size="22.7" text-anchor="middle">Kidney with APKD</text>
<text class="bk" x="720.5" y="599" font-size="16.45" text-anchor="middle">(volume approx. 1 L)</text>
<text class="bk" x="1026" y="577.5" font-size="22.7" text-anchor="middle">Progressed APKD</text>
<text class="bk" x="1026.6" y="599" font-size="16.45" text-anchor="middle">(volume up to 20 L)</text>

<!-- curve -->
<path id="curve" d="M87.5 191.8 H771.2 C775.2 192.8 788.0 195.9 795.0 197.5 C802.0 199.1 807.2 200.0 813.3 201.5 C819.4 203.0 825.6 204.6 831.7 206.7 C837.8 208.8 843.9 211.4 850.0 214.0 C856.1 216.6 862.2 219.0 868.3 222.2 C874.4 225.4 880.6 229.2 886.7 233.2 C892.8 237.2 898.8 241.1 905.0 246.0 C911.2 250.9 918.2 257.1 924.0 262.5 C929.8 267.9 935.5 273.5 940.0 278.3 C944.5 283.1 947.4 286.9 951.1 291.1 C954.8 295.3 958.5 299.0 962.2 303.3 C965.9 307.6 969.6 312.2 973.3 316.7 C977.0 321.1 979.9 324.4 984.4 330.0 C988.9 335.6 993.7 341.7 1000.0 350.0 C1006.3 358.3 1016.2 371.4 1022.4 380.0 C1028.6 388.6 1031.7 393.2 1037.4 401.5 C1043.1 409.8 1048.2 417.4 1056.8 430.0 C1065.4 442.6 1079.6 463.8 1088.8 477.4 C1098.0 491.0 1105.1 502.0 1111.7 511.8 C1118.3 521.6 1125.5 532.3 1128.2 536.4" fill="none" stroke="#c60409" stroke-width="3.6" stroke-linecap="butt"/>
</g>
</svg>
</body>
</html>
